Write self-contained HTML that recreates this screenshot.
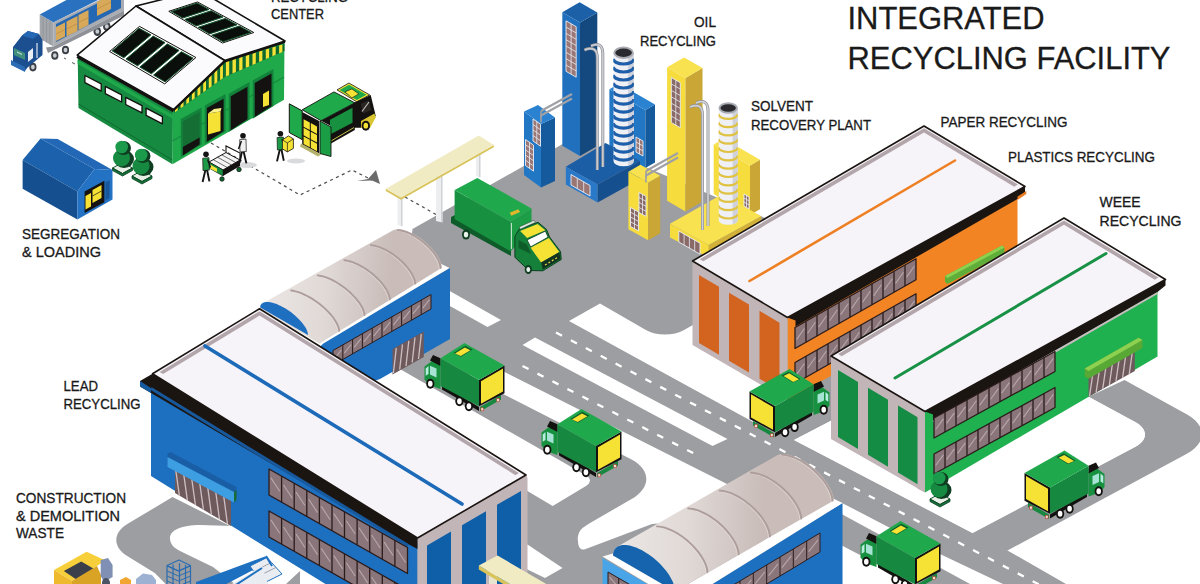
<!DOCTYPE html>
<html lang="en"><head><meta charset="utf-8"><title>Integrated Recycling Facility</title>
<style>html,body{margin:0;padding:0;background:#fff}svg{display:block}</style></head>
<body>
<svg width="1200" height="584" viewBox="0 0 1200 584">
<rect width="1200" height="584" fill="#fff"/>
<polygon points="412.5,229 575,137 840,250 832.5,420 794,440 972.5,533 1007.5,550.5 1066,584 380,584 380,395 395,372" fill="#9d9ea1"/>
<path d="M1088.5 396.8L1124.5 380L1187.1 414.4C1206.8 425.3 1206.8 443 1186.9 453.7L1007.5 550.5L1002 553.5L967 536L972.5 533L1135.4 446.7C1148.1 440 1148.1 428.9 1135.5 422.2Z" fill="#9d9ea1"/>
<path d="M172.5 497L232 527L300 566L300 584L165.7 584L154.8 573L127.2 556.1C112.6 547.3 112.7 532.8 127.3 524.1Z" fill="#9d9ea1"/>
<path d="M232 526 L200 525 C182 525 170 530 170 538 C170 544 174 548 180 551 L213 567 L235 584 L286 584 L300 571 L300 568 Z" fill="#fff"/>
<polygon points="440,285.5 501,320 487.5,327 440,300.5" fill="#fff"/>
<path d="M569 321L600 303.5L645.9 330C656.4 336.1 673.6 336.1 684.1 330L780 275L790 403L755 423Z" fill="#fff"/>
<polygon points="535,337.5 727.5,439 712.5,446 522.5,345" fill="#fff"/>
<path d="M488.7 364L725 483L760 500L700 520L652 524L591 547L585 549.2C581.7 550.4 578.6 547.8 578.2 543.4L577.8 539.9C577.4 535.5 579.7 530.1 582.9 527.8L588.8 523.7L631.6 499C651.6 487.4 651.2 469.4 630.6 458.9L505 395L469 375Z" fill="#fff"/>
<path d="M378 356.5L586.3 475.5C591.1 478.3 591.1 482.8 586.4 485.7L552.7 506L378 402Z" fill="#fff"/>
<polygon points="500,530 529,545.5 562.5,568 545,578 500,556" fill="#fff"/>
<polygon points="770,465.5 842,502.9 941,554.4 1003,584 970,584 842,514.2 770,476.8" fill="#fff"/>
<polygon points="836,542.5 916,584 836,584" fill="#fff"/>
<path d="M794 440L832.5 420L1000 380L1088.5 396.8L1135.5 422.2C1148.1 428.9 1148.1 440 1135.4 446.7L972.5 533Z" fill="#fff"/>
<polyline points="556,332.5 1040,585" fill="none" stroke="#fff" stroke-width="2.3" stroke-dasharray="6.8 10"/>
<polyline points="522.5,366 694,453.5" fill="none" stroke="#fff" stroke-width="2.3" stroke-dasharray="6.8 10"/>
<ellipse cx="97.3" cy="31.5" rx="3.8" ry="4.5" fill="#3b3f46"/><ellipse cx="97.3" cy="31.5" rx="1.9" ry="2.3" fill="#c9ccd1"/>
<ellipse cx="106.8" cy="26.5" rx="3.8" ry="4.5" fill="#3b3f46"/><ellipse cx="106.8" cy="26.5" rx="1.9" ry="2.3" fill="#c9ccd1"/>
<polygon points="39.7,14.4 53.4,22.6 104,-3 72,-3" fill="#2a72c0"/>
<polygon points="53.4,22.6 124,-12 124,10.5 53.4,46.6" fill="#a9acb2"/>
<polygon points="56,24 121,-8.5 121,8 56,42" fill="#2467b3"/>
<polygon points="56,27 65,22.5 65,36.5 56,41" fill="#d9a95a"/>
<polyline points="56,34 65,29.5" fill="none" stroke="#b98a45" stroke-width="0.7"/>
<polygon points="66.5,21.5 77.5,16 77.5,31 66.5,36.5" fill="#d9a95a"/>
<polyline points="66.5,29 77.5,23.5" fill="none" stroke="#b98a45" stroke-width="0.7"/>
<polygon points="78.5,15 88.5,10 88.5,25 78.5,30" fill="#d9a95a"/>
<polyline points="78.5,22.5 88.5,17.5" fill="none" stroke="#b98a45" stroke-width="0.7"/>
<polygon points="97,2 111,-5 111,9 97,16" fill="#d9a95a"/>
<polyline points="97,9 111,2" fill="none" stroke="#b98a45" stroke-width="0.7"/>
<polygon points="39.7,14.4 53.4,22.6 53.4,46.6 39.7,38.4" fill="#a3a6ab"/>
<polyline points="43.1,16.4 43.1,40.5" fill="none" stroke="#8c9096" stroke-width="0.7"/>
<polyline points="46.5,18.5 46.5,42.5" fill="none" stroke="#8c9096" stroke-width="0.7"/>
<polyline points="50,20.6 50,44.5" fill="none" stroke="#8c9096" stroke-width="0.7"/>
<polygon points="46,47.5 53.4,46.6 124,10.5 124,15.5 48,53" fill="#8e9197"/>
<ellipse cx="54.8" cy="55.5" rx="3.6" ry="4.3" fill="#3b3f46"/><ellipse cx="54.8" cy="55.5" rx="1.9" ry="2.3" fill="#c9ccd1"/>
<ellipse cx="65.5" cy="50" rx="3.6" ry="4.3" fill="#3b3f46"/><ellipse cx="65.5" cy="50" rx="1.9" ry="2.3" fill="#c9ccd1"/>
<ellipse cx="32.9" cy="67.1" rx="3.6" ry="4.3" fill="#3b3f46"/><ellipse cx="32.9" cy="67.1" rx="1.9" ry="2.3" fill="#c9ccd1"/>
<polygon points="13,47 22,35.5 28,31 39,34 42.5,40 42.5,55 27,68 25,71 13,65" fill="#1b4f90"/>
<polygon points="22,35.5 28,31 39,34 33,39" fill="#2467b3"/>
<polygon points="14,48 25,53 25,60 14,55" fill="#3f8f7a"/>
<polygon points="28,52 33,48 33,58 28,62" fill="#e9eef5"/>
<polygon points="11,60 25,67 25,72 11,65" fill="#2c6cb5"/>
<polyline points="37,43 37,58" fill="none" stroke="#dfe6ee" stroke-width="1.2"/>
<polyline points="17,52 22,54.5" fill="none" stroke="#dfe6ee" stroke-width="1"/>
<polyline points="64,58 66,59" fill="none" stroke="#555" stroke-width="1"/>
<polyline points="72,62.5 75,64" fill="none" stroke="#555" stroke-width="1"/>
<polyline points="211,143 300,195 352,170 372,180" fill="none" stroke="#4a4a4a" stroke-width="1.2" stroke-dasharray="3 3.5"/>
<polyline points="405,197 437,215" fill="none" stroke="#4a4a4a" stroke-width="1.2" stroke-dasharray="3 3.5"/>
<polygon points="357,181 368,179 376,170 380,184 372,180.5" fill="#6b6b6b"/>
<ellipse cx="247" cy="165" rx="10" ry="3" fill="#d8dadc"/>
<ellipse cx="296" cy="161" rx="9" ry="2.5" fill="#d8dadc"/>
<polygon points="77.7,57 173,112 172.5,164.3 78.5,108" fill="#168a40"/>
<polygon points="77.7,60 173,115 173,119 77.7,64" fill="#1fa94b"/>
<polyline points="78.5,104 172.5,160" fill="none" stroke="#0e6a30" stroke-width="1"/>
<polygon points="84.9,75.5 101.2,83.9 101.2,91.1 84.9,82.7" fill="#fff" stroke="#141210" stroke-width="1.3" stroke-linejoin="round"/>
<polygon points="105.3,86.4 121.6,94.8 121.6,102 105.3,93.6" fill="#fff" stroke="#141210" stroke-width="1.3" stroke-linejoin="round"/>
<polygon points="125.7,97.3 142,105.7 142,112.9 125.7,104.5" fill="#fff" stroke="#141210" stroke-width="1.3" stroke-linejoin="round"/>
<polygon points="146.1,108.2 162.4,116.6 162.4,123.8 146.1,115.4" fill="#fff" stroke="#141210" stroke-width="1.3" stroke-linejoin="round"/>
<polygon points="172.5,110 224.7,60 284.5,42 284,99.8 172.5,164.3" fill="#1fa94b"/>
<polyline points="172.5,141 284,77" fill="none" stroke="#168a40" stroke-width="1.2"/>
<polygon points="180.8,119 201.6,107.4 201.6,144.6 180.8,157.2" fill="#13823b"/>
<polygon points="182.8,121.5 199.6,112.1 199.6,144.6 182.8,155.5" fill="#156f35"/>
<polygon points="182.8,147 199.6,137.6 199.6,144.6 182.8,155.5" fill="#141210"/>
<polygon points="204.8,105.6 225.6,94 225.6,131.2 204.8,143.8" fill="#13823b"/>
<polygon points="206.8,108.1 223.6,98.7 223.6,131.2 206.8,142.1" fill="#141210"/>
<polygon points="228.7,93.7 249.5,82.1 249.5,119.3 228.7,131.9" fill="#13823b"/>
<polygon points="230.7,96.2 247.5,86.8 247.5,119.3 230.7,130.2" fill="#141210"/>
<polygon points="252.7,80.5 273.5,68.9 273.5,106.1 252.7,118.7" fill="#13823b"/>
<polygon points="254.7,83 271.5,73.6 271.5,106.1 254.7,117" fill="#141210"/>
<polygon points="208,113.5 220.5,111.5 220.5,131 208,134.5" fill="#f5e234"/>
<polygon points="208,113.5 214,109 221.5,108 220.5,111.5" fill="#fbf08a"/>
<polygon points="263,94 269,90.5 269,105 263,107" fill="#f5e234"/>
<polygon points="174,105 224.7,62 224.7,77 174,113" fill="#0e6a30"/>
<polygon points="175,104.1 177.8,101.8 177.8,110.3 175,112.3" fill="#f5e234"/>
<polygon points="180.6,99.4 183.5,97 183.5,106.3 180.6,108.3" fill="#f5e234"/>
<polygon points="186.3,94.6 189.1,92.2 189.1,102.3 186.3,104.3" fill="#f5e234"/>
<polygon points="191.9,89.8 194.7,87.4 194.7,98.3 191.9,100.3" fill="#f5e234"/>
<polygon points="197.5,85 200.4,82.6 200.4,94.3 197.5,96.3" fill="#f5e234"/>
<polygon points="203.2,80.3 206,77.9 206,90.3 203.2,92.3" fill="#f5e234"/>
<polygon points="208.8,75.5 211.6,73.1 211.6,86.3 208.8,88.3" fill="#f5e234"/>
<polygon points="214.4,70.7 217.3,68.3 217.3,82.3 214.4,84.3" fill="#f5e234"/>
<polygon points="220.1,65.9 222.9,63.5 222.9,78.3 220.1,80.3" fill="#f5e234"/>
<polygon points="224.7,62 284.5,44 284.5,51 224.7,77" fill="#0e6a30"/>
<polygon points="225.9,61.6 229.2,60.6 229.2,75 225.9,76.5" fill="#f5e234"/>
<polygon points="232.5,59.6 235.9,58.6 235.9,72.1 232.5,73.6" fill="#f5e234"/>
<polygon points="239.2,57.6 242.5,56.6 242.5,69.3 239.2,70.7" fill="#f5e234"/>
<polygon points="245.8,55.6 249.2,54.6 249.2,66.4 245.8,67.8" fill="#f5e234"/>
<polygon points="252.5,53.6 255.8,52.6 255.8,63.5 252.5,64.9" fill="#f5e234"/>
<polygon points="259.1,51.6 262.4,50.6 262.4,60.6 259.1,62" fill="#f5e234"/>
<polygon points="265.8,49.6 269.1,48.6 269.1,57.7 265.8,59.1" fill="#f5e234"/>
<polygon points="272.4,47.6 275.7,46.6 275.7,54.8 272.4,56.3" fill="#f5e234"/>
<polygon points="279.1,45.6 282.4,44.6 282.4,51.9 279.1,53.4" fill="#f5e234"/>
<polygon points="136,6 199,-9.7 285,41 224.7,60.5" fill="#fbfbfd" stroke="#141210" stroke-width="1.6" stroke-linejoin="round"/>
<polygon points="77.2,55.1 136,6 224.7,60.5 173.5,109.5" fill="#fbfbfd" stroke="#141210" stroke-width="1.6" stroke-linejoin="round"/>
<polyline points="77.2,56.5 173.5,111" fill="none" stroke="#141210" stroke-width="3"/>
<polyline points="173.5,110.3 224.7,61.5 285,42" fill="none" stroke="#141210" stroke-width="2"/>
<polygon points="109.6,51.5 139.5,26.4 195.9,57.5 164.7,83.9" fill="#fff" stroke="#141210" stroke-width="1" stroke-linejoin="round"/>
<polygon points="112.2,50.9 139.1,28.3 151,34.8 123.8,57.7" fill="#0a0f0c" stroke="#14532d" stroke-width="1" stroke-linejoin="round"/>
<polygon points="126,59 153.2,36.1 165,42.6 137.6,65.8" fill="#0a0f0c" stroke="#14532d" stroke-width="1" stroke-linejoin="round"/>
<polygon points="139.8,67.1 167.3,43.9 179.1,50.4 151.4,73.8" fill="#0a0f0c" stroke="#14532d" stroke-width="1" stroke-linejoin="round"/>
<polygon points="153.6,75.1 181.4,51.7 193.2,58.2 165.2,81.9" fill="#0a0f0c" stroke="#14532d" stroke-width="1" stroke-linejoin="round"/>
<polygon points="168.8,11.3 197.5,2 253.8,32.5 222.5,43" fill="#fff" stroke="#141210" stroke-width="1" stroke-linejoin="round"/>
<polygon points="171.3,11.5 197.2,3.1 209,9.5 182.6,18.1" fill="#0a0f0c" stroke="#14532d" stroke-width="1" stroke-linejoin="round"/>
<polygon points="184.8,19.4 211.2,10.7 223,17.1 196.1,26" fill="#0a0f0c" stroke="#14532d" stroke-width="1" stroke-linejoin="round"/>
<polygon points="198.2,27.3 225.3,18.4 237.1,24.8 209.5,33.9" fill="#0a0f0c" stroke="#14532d" stroke-width="1" stroke-linejoin="round"/>
<polygon points="211.7,35.2 239.3,26 251.1,32.4 223,41.8" fill="#0a0f0c" stroke="#14532d" stroke-width="1" stroke-linejoin="round"/>
<polygon points="40.6,138.5 57.7,139 112.5,170 94.5,169" fill="#2268b6"/>
<polygon points="22.6,160 40.6,138.5 94.5,169 77.4,191.5" fill="#1b61ab"/>
<polygon points="22.6,160 77.4,191.5 77.4,219.4 22.6,188.8" fill="#154f8f"/>
<polygon points="77.4,191.5 94.5,169 112.5,170 112.5,199.6 77.4,219.4" fill="#2472c4"/>
<polygon points="84.6,191.5 104.4,180.8 104.4,202.3 84.6,213.1" fill="#15120f"/>
<polygon points="105.5,182.5 109.5,180.3 109.5,198 105.5,200.2" fill="#17569a"/>
<polygon points="85.5,196 91,193 91,206.5 85.5,209.5" fill="#f5e234"/>
<polygon points="92.5,190 101.5,185 101.5,198 92.5,203" fill="#f5e234"/>
<polyline points="92.5,196 101.5,191" fill="none" stroke="#15120f" stroke-width="0.7"/>
<polygon points="112.5,168 122.5,162.5 132.5,168 122.5,173.5" fill="#e8efe6" stroke="#14532d" stroke-width="1" stroke-linejoin="round"/>
<polygon points="112.5,168 122.5,173.5 132.5,168 132.5,170.5 122.5,176 112.5,170.5" fill="#14703a" stroke="#0d3f20" stroke-width="0.8" stroke-linejoin="round"/>
<ellipse cx="124" cy="159" rx="10" ry="9" fill="#0f3d22"/>
<ellipse cx="121.5" cy="158" rx="8.5" ry="8.5" fill="#178a42"/>
<ellipse cx="123.5" cy="148" rx="7.5" ry="7" fill="#0f3d22"/>
<ellipse cx="121.7" cy="147" rx="6.3" ry="6.3" fill="#1a9a4a"/>
<polygon points="132,176 142,170.5 152,176 142,181.5" fill="#e8efe6" stroke="#14532d" stroke-width="1" stroke-linejoin="round"/>
<polygon points="132,176 142,181.5 152,176 152,178.5 142,184 132,178.5" fill="#14703a" stroke="#0d3f20" stroke-width="0.8" stroke-linejoin="round"/>
<ellipse cx="143.5" cy="167" rx="10" ry="9" fill="#0f3d22"/>
<ellipse cx="141" cy="166" rx="8.5" ry="8.5" fill="#178a42"/>
<ellipse cx="143" cy="156" rx="7.5" ry="7" fill="#0f3d22"/>
<ellipse cx="141.2" cy="155" rx="6.3" ry="6.3" fill="#1a9a4a"/>
<polygon points="289.3,103.8 302.2,110.8 302.2,139.6 289.3,132.6" fill="#1fa94b" stroke="#141210" stroke-width="1" stroke-linejoin="round"/>
<polygon points="302.2,112 319.1,121 319.1,153.5 302.2,144.5" fill="#141210"/>
<polygon points="303.6,119.2 309.8,122.6 309.8,130.1 303.6,126.7" fill="#f5e234"/>
<polygon points="303.6,127.8 309.8,131.2 309.8,138.7 303.6,135.3" fill="#f5e234"/>
<polygon points="303.6,136.4 309.8,139.8 309.8,147.3 303.6,143.9" fill="#f5e234"/>
<polygon points="310.8,123.1 317,126.5 317,134 310.8,130.6" fill="#f5e234"/>
<polygon points="310.8,131.7 317,135.1 317,142.6 310.8,139.2" fill="#f5e234"/>
<polygon points="310.8,140.3 317,143.7 317,151.2 310.8,147.8" fill="#f5e234"/>
<polygon points="301,143.5 317,152 321,154.5 318,156.5 300,146.5" fill="#b5b06a"/>
<polygon points="321,120.7 354.8,102.8 354.8,130 331,143.5 331,126" fill="#141210"/>
<polygon points="330,119.7 352.5,107.8 352.5,122.7 330,134.6" fill="#17913f"/>
<polyline points="331,141 354,127.5" fill="none" stroke="#c9bf4a" stroke-width="1"/>
<polygon points="320,121 331,127 331,156.5 320,153.5" fill="#1b9d46" stroke="#141210" stroke-width="0.9" stroke-linejoin="round"/>
<polygon points="302.2,109.8 334,91.9 354.8,102.8 321,120.7" fill="#1fa94b" stroke="#141210" stroke-width="0.9" stroke-linejoin="round"/>
<polygon points="337,89.9 348.9,83 369.7,94.9 356.8,101.8" fill="#f5e234" stroke="#141210" stroke-width="0.8" stroke-linejoin="round"/>
<polygon points="339.5,90 349,84.7 366.5,94.8 356.8,100" fill="#1fa94b"/>
<polygon points="344.9,91.9 351.9,88.9 358.8,93.9 351.9,97.9" fill="#f5e234" stroke="#141210" stroke-width="0.6" stroke-linejoin="round"/>
<polygon points="353.8,102.8 370.7,94.9 375.7,115.7 368.7,127.7 353.8,127.7" fill="#141210"/>
<polygon points="360.8,103.8 368.5,100.2 371.5,110 363,113.5" fill="#2a2622"/>
<polyline points="362,111.5 369,102" fill="none" stroke="#bdbdbd" stroke-width="1.2"/>
<polygon points="361,121 374.5,113.5 375.7,117.5 370,128 361,128" fill="#d9c530"/>
<ellipse cx="365.8" cy="125.7" rx="4.2" ry="5" fill="#141210"/><ellipse cx="365.8" cy="125.7" rx="2.3" ry="2.9" fill="#f5e234"/>
<polygon points="209,162 226,152.5 240,160 223,170" fill="#f4f4f4" stroke="#141210" stroke-width="1" stroke-linejoin="round"/>
<polyline points="213.2,159.6 227.2,167.5" fill="none" stroke="#141210" stroke-width="0.6"/>
<polyline points="217.5,157.2 231.5,165" fill="none" stroke="#141210" stroke-width="0.6"/>
<polyline points="221.8,154.9 235.8,162.5" fill="none" stroke="#141210" stroke-width="0.6"/>
<polygon points="209,162 223,170 223,176 209,168" fill="#17913f" stroke="#141210" stroke-width="0.6" stroke-linejoin="round"/>
<polygon points="223,170 240,160 240,166 223,176" fill="#141210"/>
<polygon points="210,164.5 217,168.5 217,172 210,168.5" fill="#f5e234"/>
<polyline points="226,152.5 226,146 240,153 240,160" fill="none" stroke="#141210" stroke-width="1.1"/>
<circle cx="222" cy="179" r="2.2" fill="#0d6b2f" stroke="#141210" stroke-width="0.8"/>
<circle cx="239" cy="169.5" r="2.2" fill="#0d6b2f" stroke="#141210" stroke-width="0.8"/>
<polyline points="202.6,182 205.7,168.8 206.8,168.8 209.4,181.4" fill="none" stroke="#141414" stroke-width="1.9" stroke-linejoin="round"/>
<polygon points="202.7,158.2 209,157.7 209.3,170.1 203,170.6" fill="#1d9a48" stroke="#141414" stroke-width="0.7" stroke-linejoin="round"/>
<polyline points="207.6,159.6 210.5,167.5" fill="none" stroke="#141414" stroke-width="1.5"/>
<circle cx="206" cy="154.3" r="2.8" fill="#141414"/>
<polyline points="246.4,163.4 243.3,150.2 242.2,150.2 239.6,162.8" fill="none" stroke="#141414" stroke-width="1.9" stroke-linejoin="round"/>
<polygon points="239.7,139.6 246,139.1 246.3,151.5 240,152" fill="#f1f1f1" stroke="#141414" stroke-width="0.7" stroke-linejoin="round"/>
<polyline points="241.4,141 238.5,148.9" fill="none" stroke="#141414" stroke-width="1.5"/>
<circle cx="243" cy="135.7" r="2.8" fill="#141414"/>
<polyline points="277,161.4 280.1,148.2 281.2,148.2 283.8,160.8" fill="none" stroke="#141414" stroke-width="1.9" stroke-linejoin="round"/>
<polygon points="277.1,137.6 283.4,137.1 283.7,149.5 277.4,150" fill="#1d9a48" stroke="#141414" stroke-width="0.7" stroke-linejoin="round"/>
<polyline points="282,139 284.9,146.9" fill="none" stroke="#141414" stroke-width="1.5"/>
<circle cx="280.4" cy="133.7" r="2.8" fill="#141414"/>
<polygon points="282.4,139.9 288.4,135.9 293.4,138.9 293.4,148.4 287.4,151.9 282.4,148.9" fill="#f5e234" stroke="#141414" stroke-width="0.8" stroke-linejoin="round"/>
<polyline points="282.4,139.9 287.4,142.9 293.4,138.9" fill="none" stroke="#141414" stroke-width="0.7"/>
<polyline points="287.4,142.9 287.4,151.9" fill="none" stroke="#141414" stroke-width="0.7"/>
<polygon points="476,150 480.5,150 480.5,177.5 476,176" fill="#eceef0"/>
<polyline points="479.7,150 479.7,177" fill="none" stroke="#cfd2d6" stroke-width="1.4"/>
<polygon points="436,172 442.5,172 442.5,222.5 436,221" fill="#eceef0"/>
<polyline points="441.7,172 441.7,222" fill="none" stroke="#cfd2d6" stroke-width="1.4"/>
<polygon points="397.5,192 402.5,192 402.5,226.5 397.5,225" fill="#eceef0"/>
<polyline points="401.7,192 401.7,226" fill="none" stroke="#cfd2d6" stroke-width="1.4"/>
<polygon points="385.8,188.8 401,197.5 493.8,145 493.8,147.3 401,199.8 385.8,191" fill="#d8c45a"/>
<polygon points="385.8,188.8 478.8,135.5 493.8,145 401,197.5" fill="#f0ebc2"/>
<polygon points="320,343 450,268 450,339 380,379 320,400" fill="#1d6fc0"/>
<polygon points="306,347 441.3,264 449.5,268 323,343.8 318,349" fill="#fff"/>
<polygon points="333,350.5 431,294.5 431,309 333,365" fill="#8a767a" stroke="#2b1c1c" stroke-width="1" stroke-linejoin="round"/>
<polyline points="342.8,344.9 342.8,359.4" fill="none" stroke="#2b1c1c" stroke-width="1"/>
<polyline points="352.6,339.3 352.6,353.8" fill="none" stroke="#2b1c1c" stroke-width="1"/>
<polyline points="362.4,333.7 362.4,348.2" fill="none" stroke="#2b1c1c" stroke-width="1"/>
<polyline points="372.2,328.1 372.2,342.6" fill="none" stroke="#2b1c1c" stroke-width="1"/>
<polyline points="382,322.5 382,337" fill="none" stroke="#2b1c1c" stroke-width="1"/>
<polyline points="391.8,316.9 391.8,331.4" fill="none" stroke="#2b1c1c" stroke-width="1"/>
<polyline points="401.6,311.3 401.6,325.8" fill="none" stroke="#2b1c1c" stroke-width="1"/>
<polyline points="411.4,305.7 411.4,320.2" fill="none" stroke="#2b1c1c" stroke-width="1"/>
<polyline points="421.2,300.1 421.2,314.6" fill="none" stroke="#2b1c1c" stroke-width="1"/>
<polyline points="334.5,358.7 341.3,350.1" fill="none" stroke="#b7a7aa" stroke-width="1.1"/>
<polyline points="344.3,353.1 351.1,344.5" fill="none" stroke="#b7a7aa" stroke-width="1.1"/>
<polyline points="354.1,347.4 360.9,338.9" fill="none" stroke="#b7a7aa" stroke-width="1.1"/>
<polyline points="363.9,341.9 370.7,333.3" fill="none" stroke="#b7a7aa" stroke-width="1.1"/>
<polyline points="373.7,336.2 380.5,327.7" fill="none" stroke="#b7a7aa" stroke-width="1.1"/>
<polyline points="383.5,330.7 390.3,322.1" fill="none" stroke="#b7a7aa" stroke-width="1.1"/>
<polyline points="393.3,325.1 400.1,316.5" fill="none" stroke="#b7a7aa" stroke-width="1.1"/>
<polyline points="403.1,319.4 409.9,310.9" fill="none" stroke="#b7a7aa" stroke-width="1.1"/>
<polyline points="412.9,313.9 419.7,305.3" fill="none" stroke="#b7a7aa" stroke-width="1.1"/>
<polyline points="422.7,308.2 429.5,299.7" fill="none" stroke="#b7a7aa" stroke-width="1.1"/>
<polygon points="392.5,349 423.8,331.5 423.8,357 392.5,374.5" fill="#6e5a5c"/>
<polyline points="396.3,347.9 393.4,373" fill="none" stroke="#cdbfc2" stroke-width="1.3"/>
<polyline points="402.5,344.4 399.7,369.5" fill="none" stroke="#cdbfc2" stroke-width="1.3"/>
<polyline points="408.8,340.9 406,366" fill="none" stroke="#cdbfc2" stroke-width="1.3"/>
<polyline points="415,337.4 412.2,362.5" fill="none" stroke="#cdbfc2" stroke-width="1.3"/>
<polyline points="421.3,333.9 418.5,359" fill="none" stroke="#cdbfc2" stroke-width="1.3"/>
<defs><linearGradient id="bg1" gradientUnits="userSpaceOnUse" x1="259.5" y1="298.8" x2="388.7" y2="308.9"><stop offset="0" stop-color="#ece7e5"/><stop offset="0.5" stop-color="#e0d9d6"/><stop offset="1" stop-color="#c9bcb9"/></linearGradient></defs>
<polygon points="259.5,309 259.6,307.7 259.9,306.6 260.3,305.5 261,304.6 261.8,303.8 262.8,303.2 392.7,230.4 393.9,229.9 395.1,229.6 396.6,229.4 398.1,229.3 399.7,229.4 401.4,229.6 403.3,230 405.2,230.5 407.1,231.2 409.1,231.9 411.1,232.8 413.2,233.9 415.3,235 417.4,236.2 419.4,237.6 421.5,239 423.5,240.6 425.4,242.2 427.3,243.8 429.1,245.5 430.9,247.3 432.5,249.1 434,250.9 435.4,252.7 436.7,254.5 437.9,256.3 438.9,258.1 439.8,259.9 440.5,261.6 441.1,263.2 441.5,264.8 441.7,266.3 441.8,267.7 319.5,343.4" fill="url(#bg1)"/>
<polyline points="337.8,331.3 337.6,329.7 337.2,328 336.6,326.3 335.8,324.4 334.7,322.5 333.5,320.6 332.2,318.5 330.6,316.5 328.9,314.5 327,312.4 325,310.4 322.9,308.4 320.6,306.4 318.3,304.6 315.9,302.7 313.4,301 311,299.4 308.4,297.9 305.9,296.5 303.4,295.3 301,294.2 298.6,293.2 296.2,292.4 294,291.8 291.9,291.3 289.8,291" fill="none" stroke="#ece6e4" stroke-width="1.2" stroke-linecap="round" opacity="0.55"/>
<polyline points="339.1,330.8 338.9,329.2 338.5,327.5 337.9,325.8 337.1,323.9 336,322 334.8,320.1 333.5,318 331.9,316 330.2,314 328.3,311.9 326.3,309.9 324.2,307.9 321.9,305.9 319.6,304.1 317.2,302.2 314.7,300.5 312.3,298.9 309.7,297.4 307.2,296 304.7,294.8 302.3,293.7 299.9,292.7 297.5,291.9 295.3,291.3 293.2,290.8 291.1,290.5" fill="none" stroke="#ad9e9c" stroke-width="1.9" stroke-linecap="round"/>
<polyline points="363.1,315.6 363,314 362.6,312.3 362,310.6 361.2,308.7 360.2,306.8 359,304.8 357.7,302.9 356.1,300.8 354.5,298.8 352.6,296.8 350.7,294.8 348.6,292.8 346.4,290.9 344.2,289 341.8,287.2 339.4,285.6 337,284 334.5,282.5 332.1,281.1 329.7,279.9 327.3,278.9 324.9,277.9 322.6,277.2 320.5,276.6 318.4,276.2 316.4,275.9" fill="none" stroke="#ece6e4" stroke-width="1.2" stroke-linecap="round" opacity="0.55"/>
<polyline points="364.4,315.1 364.3,313.5 363.9,311.8 363.3,310.1 362.5,308.2 361.5,306.3 360.3,304.3 359,302.4 357.4,300.3 355.8,298.3 353.9,296.3 352,294.3 349.9,292.3 347.7,290.4 345.5,288.5 343.1,286.7 340.7,285.1 338.3,283.5 335.8,282 333.4,280.6 331,279.4 328.6,278.4 326.2,277.4 323.9,276.7 321.8,276.1 319.7,275.7 317.7,275.4" fill="none" stroke="#ad9e9c" stroke-width="1.9" stroke-linecap="round"/>
<polyline points="388.5,299.8 388.3,298.3 388,296.6 387.4,294.8 386.6,293 385.7,291.1 384.5,289.1 383.2,287.2 381.7,285.2 380.1,283.1 378.3,281.1 376.4,279.2 374.3,277.2 372.2,275.3 370,273.5 367.7,271.7 365.4,270.1 363,268.5 360.6,267.1 358.3,265.8 355.9,264.6 353.5,263.6 351.3,262.7 349,262 346.9,261.4 344.9,261 343,260.8" fill="none" stroke="#ece6e4" stroke-width="1.2" stroke-linecap="round" opacity="0.55"/>
<polyline points="389.8,299.3 389.6,297.8 389.3,296.1 388.7,294.3 387.9,292.5 387,290.6 385.8,288.6 384.5,286.7 383,284.7 381.4,282.6 379.6,280.6 377.7,278.7 375.6,276.7 373.5,274.8 371.3,273 369,271.2 366.7,269.6 364.3,268 361.9,266.6 359.6,265.3 357.2,264.1 354.8,263.1 352.6,262.2 350.3,261.5 348.2,260.9 346.2,260.5 344.3,260.3" fill="none" stroke="#ad9e9c" stroke-width="1.9" stroke-linecap="round"/>
<polyline points="413.9,284.1 413.7,282.6 413.4,280.9 412.8,279.1 412,277.3 411.1,275.4 410,273.4 408.7,271.5 407.3,269.5 405.7,267.5 403.9,265.5 402.1,263.5 400.1,261.6 398,259.8 395.9,258 393.6,256.2 391.4,254.6 389.1,253.1 386.7,251.7 384.4,250.4 382.1,249.3 379.8,248.3 377.6,247.4 375.4,246.8 373.4,246.2 371.4,245.9 369.5,245.7" fill="none" stroke="#ece6e4" stroke-width="1.2" stroke-linecap="round" opacity="0.55"/>
<polyline points="415.2,283.6 415,282.1 414.7,280.4 414.1,278.6 413.3,276.8 412.4,274.9 411.3,272.9 410,271 408.6,269 407,267 405.2,265 403.4,263 401.4,261.1 399.3,259.3 397.2,257.5 394.9,255.7 392.7,254.1 390.4,252.6 388,251.2 385.7,249.9 383.4,248.8 381.1,247.8 378.9,246.9 376.7,246.3 374.7,245.7 372.7,245.4 370.8,245.2" fill="none" stroke="#ad9e9c" stroke-width="1.9" stroke-linecap="round"/>
<polyline points="439.3,268.4 439.1,266.8 438.7,265.2 438.2,263.4 437.5,261.6 436.6,259.7 435.5,257.7 434.2,255.8 432.8,253.8 431.3,251.8 429.6,249.9 427.8,247.9 425.8,246 423.8,244.2 421.7,242.4 419.6,240.7 417.4,239.2 415.1,237.7 412.8,236.3 410.6,235.1 408.3,234 406.1,233 404,232.2 401.8,231.5 399.8,231 397.9,230.7 396.1,230.6" fill="none" stroke="#ece6e4" stroke-width="1.2" stroke-linecap="round" opacity="0.55"/>
<polyline points="440.6,267.9 440.4,266.3 440,264.7 439.5,262.9 438.8,261.1 437.9,259.2 436.8,257.2 435.5,255.3 434.1,253.3 432.6,251.3 430.9,249.4 429.1,247.4 427.1,245.5 425.1,243.7 423,241.9 420.9,240.2 418.7,238.7 416.4,237.2 414.1,235.8 411.9,234.6 409.6,233.5 407.4,232.5 405.3,231.7 403.1,231 401.1,230.5 399.2,230.2 397.4,230.1" fill="none" stroke="#ad9e9c" stroke-width="1.9" stroke-linecap="round"/>
<polygon points="308,335 307.9,333.9 307.7,332.7 307.3,331.4 306.8,330.1 306.2,328.8 305.4,327.3 304.5,325.9 303.4,324.4 302.3,322.9 301,321.4 299.6,319.9 298.1,318.4 296.6,316.9 295,315.4 293.2,314 291.5,312.6 289.7,311.3 287.8,310 286,308.8 284.1,307.7 282.2,306.7 280.4,305.7 278.5,304.9 276.7,304.1 275,303.5 273.2,303 271.6,302.5 270.1,302.2 268.6,302.1 267.2,302 265.9,302 264.8,302.2 263.7,302.5 262.8,302.9 262,303.4 261.4,304.1 260.9,304.8 260.5,305.6 260.3,306.6 260.2,307.6" fill="#1f6fc0"/>
<polygon points="645.4,168 609.4,147.2 609.4,89.2 645.4,110" fill="#2277c5"/>
<polygon points="645.4,168 655,162.5 655,104.5 645.4,110" fill="#155a9c"/>
<polygon points="645.4,110 609.4,89.2 619,83.7 655,104.5" fill="#2a82d0"/>
<polygon points="580,156 562.3,145.8 562.3,12.3 580,22.5" fill="#2170bd"/>
<polygon points="580,156 597.3,146 597.3,12.5 580,22.5" fill="#14497f"/>
<polygon points="580,22.5 562.3,12.3 579.6,2.3 597.3,12.5" fill="#1c60a8"/>
<polygon points="566,20.8 576.2,26.7 576.2,77.2 566,71.3" fill="#9a7674" stroke="#e8eef7" stroke-width="0.9" stroke-linejoin="round"/>
<polyline points="571.1,23.7 571.1,74.2" fill="none" stroke="#e8eef7" stroke-width="0.8"/>
<polyline points="566,27.1 576.2,33" fill="none" stroke="#e8eef7" stroke-width="0.8"/>
<polyline points="566,33.4 576.2,39.3" fill="none" stroke="#e8eef7" stroke-width="0.8"/>
<polyline points="566,39.7 576.2,45.6" fill="none" stroke="#e8eef7" stroke-width="0.8"/>
<polyline points="566,46 576.2,51.9" fill="none" stroke="#e8eef7" stroke-width="0.8"/>
<polyline points="566,52.4 576.2,58.2" fill="none" stroke="#e8eef7" stroke-width="0.8"/>
<polyline points="566,58.7 576.2,64.6" fill="none" stroke="#e8eef7" stroke-width="0.8"/>
<polyline points="566,65 576.2,70.9" fill="none" stroke="#e8eef7" stroke-width="0.8"/>
<polygon points="565.8,166.7 605.5,143 640,161 597.6,184.6" fill="#1b5ea6"/>
<polygon points="565.8,166.7 597.6,184.6 597.6,202.5 565.8,184.6" fill="#2a79c9"/>
<polygon points="597.6,184.6 640,161 640,179 597.6,202.5" fill="#154f8e"/>
<polygon points="571,174.5 590,185.5 590,196 571,185" fill="#9a7674" stroke="#e8eef7" stroke-width="0.9" stroke-linejoin="round"/>
<polyline points="577.3,178.2 577.3,188.7" fill="none" stroke="#e8eef7" stroke-width="0.8"/>
<polyline points="583.7,181.8 583.7,192.3" fill="none" stroke="#e8eef7" stroke-width="0.8"/>
<path d="M584.5 50 Q597.3 45 597.3 58 L597.3 170" fill="none" stroke="#8f9197" stroke-width="3"/><path d="M584.5 50 Q597.3 45 597.3 58 L597.3 170" fill="none" stroke="#c9cbd0" stroke-width="1.6"/>
<path d="M591 46 Q602.8 41 602.8 54 L602.8 167" fill="none" stroke="#8f9197" stroke-width="3"/><path d="M591 46 Q602.8 41 602.8 54 L602.8 167" fill="none" stroke="#c9cbd0" stroke-width="1.6"/>
<clipPath id="c623"><path d="M613.3 52.8 L613.3 161 A10.3 5.2 0 0 0 633.9 161 L633.9 52.8Z"/></clipPath>
<g clip-path="url(#c623)"><rect x="613.3" y="52.8" width="20.6" height="114.4" fill="#eef0f6"/>
<rect x="628.2" y="52.8" width="5.7" height="114.4" fill="#cfd2da"/>
<path d="M613.3 58.8 A10.3 5.2 0 0 0 633.9 58.8" fill="none" stroke="#1f5ea8" stroke-width="3.2"/>
<path d="M613.3 66.8 A10.3 5.2 0 0 0 633.9 66.8" fill="none" stroke="#1f5ea8" stroke-width="3.2"/>
<path d="M613.3 74.8 A10.3 5.2 0 0 0 633.9 74.8" fill="none" stroke="#1f5ea8" stroke-width="3.2"/>
<path d="M613.3 82.8 A10.3 5.2 0 0 0 633.9 82.8" fill="none" stroke="#1f5ea8" stroke-width="3.2"/>
<path d="M613.3 90.9 A10.3 5.2 0 0 0 633.9 90.9" fill="none" stroke="#1f5ea8" stroke-width="3.2"/>
<path d="M613.3 98.9 A10.3 5.2 0 0 0 633.9 98.9" fill="none" stroke="#1f5ea8" stroke-width="3.2"/>
<path d="M613.3 106.9 A10.3 5.2 0 0 0 633.9 106.9" fill="none" stroke="#1f5ea8" stroke-width="3.2"/>
<path d="M613.3 114.9 A10.3 5.2 0 0 0 633.9 114.9" fill="none" stroke="#1f5ea8" stroke-width="3.2"/>
<path d="M613.3 122.9 A10.3 5.2 0 0 0 633.9 122.9" fill="none" stroke="#1f5ea8" stroke-width="3.2"/>
<path d="M613.3 130.9 A10.3 5.2 0 0 0 633.9 130.9" fill="none" stroke="#1f5ea8" stroke-width="3.2"/>
<path d="M613.3 139 A10.3 5.2 0 0 0 633.9 139" fill="none" stroke="#1f5ea8" stroke-width="3.2"/>
<path d="M613.3 147 A10.3 5.2 0 0 0 633.9 147" fill="none" stroke="#1f5ea8" stroke-width="3.2"/>
<path d="M613.3 155 A10.3 5.2 0 0 0 633.9 155" fill="none" stroke="#1f5ea8" stroke-width="3.2"/>
</g>
<ellipse cx="623.6" cy="52.8" rx="9.3" ry="5.2" fill="#2a2a2e" stroke="#a9abb2" stroke-width="2"/>
<polygon points="636,137 643,141 643,156 636,152" fill="#9a7674" stroke="#e8eef7" stroke-width="0.9" stroke-linejoin="round"/>
<polyline points="639.5,139 639.5,154" fill="none" stroke="#e8eef7" stroke-width="0.8"/>
<polyline points="636,142 643,146" fill="none" stroke="#e8eef7" stroke-width="0.8"/>
<polyline points="636,147 643,151" fill="none" stroke="#e8eef7" stroke-width="0.8"/>
<polygon points="541,187.5 524,175 524,111.5 541,124" fill="#2277c5"/>
<polygon points="541,187.5 555,181.1 555,117.6 541,124" fill="#155a9c"/>
<polygon points="541,124 524,111.5 538,105.1 555,117.6" fill="#2a82d0"/>
<polygon points="533,119 540.5,124.2 540.5,146.2 533,141" fill="#9a7674" stroke="#e8eef7" stroke-width="0.9" stroke-linejoin="round"/>
<polyline points="536.8,121.6 536.8,143.6" fill="none" stroke="#e8eef7" stroke-width="0.8"/>
<polyline points="533,124.5 540.5,129.8" fill="none" stroke="#e8eef7" stroke-width="0.8"/>
<polyline points="533,130 540.5,135.2" fill="none" stroke="#e8eef7" stroke-width="0.8"/>
<polyline points="533,135.5 540.5,140.8" fill="none" stroke="#e8eef7" stroke-width="0.8"/>
<polygon points="525.5,139.5 533.5,145.1 533.5,171.1 525.5,165.5" fill="#9a7674" stroke="#e8eef7" stroke-width="0.9" stroke-linejoin="round"/>
<polyline points="529.5,142.3 529.5,168.3" fill="none" stroke="#e8eef7" stroke-width="0.8"/>
<polyline points="525.5,144.7 533.5,150.3" fill="none" stroke="#e8eef7" stroke-width="0.8"/>
<polyline points="525.5,149.9 533.5,155.5" fill="none" stroke="#e8eef7" stroke-width="0.8"/>
<polyline points="525.5,155.1 533.5,160.7" fill="none" stroke="#e8eef7" stroke-width="0.8"/>
<polyline points="525.5,160.3 533.5,165.9" fill="none" stroke="#e8eef7" stroke-width="0.8"/>
<polyline points="541,111 572,94" fill="none" stroke="#9fa1a6" stroke-width="2.2"/>
<polyline points="541,111 541,118" fill="none" stroke="#9fa1a6" stroke-width="1.6"/>
<polyline points="541,115.5 572,98.5" fill="none" stroke="#9fa1a6" stroke-width="2.2"/>
<polyline points="541,115.5 541,122.5" fill="none" stroke="#9fa1a6" stroke-width="1.6"/>
<polygon points="750,215 713.7,194.1 713.7,144.6 750,165.5" fill="#f6dc3c"/>
<polygon points="750,215 760,209.2 760,159.7 750,165.5" fill="#c9a635"/>
<polygon points="750,165.5 713.7,144.6 723.7,138.8 760,159.7" fill="#f8e250"/>
<polygon points="685.5,211.4 667.1,200.8 667.1,67.3 685.5,77.9" fill="#f6dc3c"/>
<polygon points="685.5,211.4 702.5,201.6 702.5,68.1 685.5,77.9" fill="#c9a635"/>
<polygon points="685.5,77.9 667.1,67.3 684.1,57.5 702.5,68.1" fill="#f8e250"/>
<polygon points="671.3,77.5 680.3,82.7 680.3,127.7 671.3,122.5" fill="#8a6a66" stroke="#e8eef7" stroke-width="0.9" stroke-linejoin="round"/>
<polyline points="675.8,80.1 675.8,125.1" fill="none" stroke="#e8eef7" stroke-width="0.8"/>
<polyline points="671.3,83.9 680.3,89.1" fill="none" stroke="#e8eef7" stroke-width="0.8"/>
<polyline points="671.3,90.4 680.3,95.6" fill="none" stroke="#e8eef7" stroke-width="0.8"/>
<polyline points="671.3,96.8 680.3,102" fill="none" stroke="#e8eef7" stroke-width="0.8"/>
<polyline points="671.3,103.2 680.3,108.4" fill="none" stroke="#e8eef7" stroke-width="0.8"/>
<polyline points="671.3,109.6 680.3,114.8" fill="none" stroke="#e8eef7" stroke-width="0.8"/>
<polyline points="671.3,116.1 680.3,121.3" fill="none" stroke="#e8eef7" stroke-width="0.8"/>
<polygon points="670,223.8 722.5,194 761.3,216.3 708.8,245" fill="#f8e250"/>
<polygon points="670,223.8 708.8,245 708.8,257.5 670,237.5" fill="#f6dc3c"/>
<polygon points="708.8,245 761.3,216.3 761.3,232 708.8,257.5" fill="#d2b03a"/>
<polygon points="678.8,231 700,243.2 700,254.2 678.8,242" fill="#8a6a66" stroke="#e8eef7" stroke-width="0.9" stroke-linejoin="round"/>
<polyline points="684.1,234.1 684.1,245.1" fill="none" stroke="#e8eef7" stroke-width="0.8"/>
<polyline points="689.4,237.1 689.4,248.1" fill="none" stroke="#e8eef7" stroke-width="0.8"/>
<polyline points="694.7,240.2 694.7,251.2" fill="none" stroke="#e8eef7" stroke-width="0.8"/>
<path d="M690 107 Q702.5 102 702.5 115 L702.5 230" fill="none" stroke="#8f9197" stroke-width="3"/><path d="M690 107 Q702.5 102 702.5 115 L702.5 230" fill="none" stroke="#cfd1d5" stroke-width="1.6"/>
<path d="M696 103 Q708 98 708 111 L708 226" fill="none" stroke="#8f9197" stroke-width="3"/><path d="M696 103 Q708 98 708 111 L708 226" fill="none" stroke="#cfd1d5" stroke-width="1.6"/>
<clipPath id="c728"><path d="M718.5 108 L718.5 220 A9.7 4.8 0 0 0 737.9 220 L737.9 108Z"/></clipPath>
<g clip-path="url(#c728)"><rect x="718.5" y="108" width="19.4" height="117.8" fill="#eef0f6"/>
<rect x="732.6" y="108" width="5.3" height="117.8" fill="#cfd2da"/>
<path d="M718.5 114 A9.7 4.8 0 0 0 737.9 114" fill="none" stroke="#e0c243" stroke-width="2.2"/>
<path d="M718.5 122.3 A9.7 4.8 0 0 0 737.9 122.3" fill="none" stroke="#e0c243" stroke-width="2.2"/>
<path d="M718.5 130.6 A9.7 4.8 0 0 0 737.9 130.6" fill="none" stroke="#e0c243" stroke-width="2.2"/>
<path d="M718.5 138.9 A9.7 4.8 0 0 0 737.9 138.9" fill="none" stroke="#e0c243" stroke-width="2.2"/>
<path d="M718.5 147.2 A9.7 4.8 0 0 0 737.9 147.2" fill="none" stroke="#e0c243" stroke-width="2.2"/>
<path d="M718.5 155.5 A9.7 4.8 0 0 0 737.9 155.5" fill="none" stroke="#e0c243" stroke-width="2.2"/>
<path d="M718.5 163.8 A9.7 4.8 0 0 0 737.9 163.8" fill="none" stroke="#e0c243" stroke-width="2.2"/>
<path d="M718.5 172.2 A9.7 4.8 0 0 0 737.9 172.2" fill="none" stroke="#e0c243" stroke-width="2.2"/>
<path d="M718.5 180.5 A9.7 4.8 0 0 0 737.9 180.5" fill="none" stroke="#e0c243" stroke-width="2.2"/>
<path d="M718.5 188.8 A9.7 4.8 0 0 0 737.9 188.8" fill="none" stroke="#e0c243" stroke-width="2.2"/>
<path d="M718.5 197.1 A9.7 4.8 0 0 0 737.9 197.1" fill="none" stroke="#e0c243" stroke-width="2.2"/>
<path d="M718.5 205.4 A9.7 4.8 0 0 0 737.9 205.4" fill="none" stroke="#e0c243" stroke-width="2.2"/>
<path d="M718.5 213.7 A9.7 4.8 0 0 0 737.9 213.7" fill="none" stroke="#e0c243" stroke-width="2.2"/>
</g>
<ellipse cx="728.2" cy="108" rx="8.7" ry="4.8" fill="#2a2a2e" stroke="#a9abb2" stroke-width="2"/>
<polygon points="744,194 749,196.9 749,208.9 744,206" fill="#8a6a66" stroke="#e8eef7" stroke-width="0.9" stroke-linejoin="round"/>
<polyline points="746.5,195.4 746.5,207.4" fill="none" stroke="#e8eef7" stroke-width="0.8"/>
<polyline points="744,198 749,200.9" fill="none" stroke="#e8eef7" stroke-width="0.8"/>
<polyline points="744,202 749,204.9" fill="none" stroke="#e8eef7" stroke-width="0.8"/>
<polygon points="648.2,240.2 628.4,229.3 628.4,171.7 648.2,182.6" fill="#f6dc3c"/>
<polygon points="648.2,240.2 660.2,233.3 660.2,175.7 648.2,182.6" fill="#c9a635"/>
<polygon points="648.2,182.6 628.4,171.7 640.4,164.8 660.2,175.7" fill="#f8e250"/>
<polygon points="639,192.5 646,196.3 646,216.3 639,212.5" fill="#8a6a66" stroke="#e8eef7" stroke-width="0.9" stroke-linejoin="round"/>
<polyline points="642.5,194.4 642.5,214.4" fill="none" stroke="#e8eef7" stroke-width="0.8"/>
<polyline points="639,197.5 646,201.3" fill="none" stroke="#e8eef7" stroke-width="0.8"/>
<polyline points="639,202.5 646,206.3" fill="none" stroke="#e8eef7" stroke-width="0.8"/>
<polyline points="639,207.5 646,211.3" fill="none" stroke="#e8eef7" stroke-width="0.8"/>
<polygon points="630.5,207.5 638.5,211.9 638.5,230.9 630.5,226.5" fill="#8a6a66" stroke="#e8eef7" stroke-width="0.9" stroke-linejoin="round"/>
<polyline points="634.5,209.7 634.5,228.7" fill="none" stroke="#e8eef7" stroke-width="0.8"/>
<polyline points="630.5,212.2 638.5,216.7" fill="none" stroke="#e8eef7" stroke-width="0.8"/>
<polyline points="630.5,217 638.5,221.4" fill="none" stroke="#e8eef7" stroke-width="0.8"/>
<polyline points="630.5,221.8 638.5,226.2" fill="none" stroke="#e8eef7" stroke-width="0.8"/>
<polyline points="646,171 678,153" fill="none" stroke="#9fa1a6" stroke-width="2.2"/>
<polyline points="646,171 646,178" fill="none" stroke="#9fa1a6" stroke-width="1.6"/>
<polyline points="646,175.5 678,157.5" fill="none" stroke="#9fa1a6" stroke-width="2.2"/>
<polyline points="646,175.5 646,182.5" fill="none" stroke="#9fa1a6" stroke-width="1.6"/>
<polygon points="451,217 455,215 511,249 511,256 451,223" fill="#0f5c2b"/>
<ellipse cx="466" cy="234.6" rx="4" ry="5" fill="#0e3d20"/><ellipse cx="466" cy="234.6" rx="2.2" ry="2.9" fill="#e8f3ea"/>
<polygon points="454.6,190.1 510.5,221.5 510.5,251.2 454.6,218.9" fill="#17913f"/>
<polygon points="510.5,221.5 531.5,208.4 531.5,232 510.5,251.2" fill="#1c9d46"/>
<polygon points="454.6,190.1 477.3,177.9 531.5,208.4 510.5,221.5" fill="#20a84c"/>
<polyline points="511.5,223 511.5,249" fill="none" stroke="#bfe3c6" stroke-width="1"/>
<polygon points="509.6,212.8 518.3,209.3 520.1,211.9 511.4,215.8" fill="#e0b72c"/>
<polygon points="514.9,236.4 519,229.5 538,222.3 546.5,229.5 549.5,237 560.5,251.5 561.2,259.5 542.8,270.8 528.8,270.5 514.9,257.3" fill="#15803a" stroke="#0c3f1f" stroke-width="1" stroke-linejoin="round"/>
<polygon points="518.5,240 527,244.5 531,254 518.5,248" fill="#0f5c2b"/>
<polygon points="520.1,231.1 537.6,224.1 545.4,230.3 527.1,238.1" fill="#f5e234"/>
<polygon points="527.1,239.9 545.4,231.1 548.1,237.2 530.6,246.9" fill="#fff" stroke="#0c3f1f" stroke-width="0.8" stroke-linejoin="round"/>
<polygon points="530.6,247.7 548.9,238.1 559.4,252.1 541.1,262.6" fill="#f5e234"/>
<polygon points="541.1,262.6 559.4,252.1 560.3,259.1 542.8,269.6" fill="#12331f"/>
<polyline points="545,265 557.5,257.5" fill="none" stroke="#e8d94a" stroke-width="1.2" stroke-dasharray="2 2"/>
<polygon points="519,227 534,220.3 535.5,222.3 520.5,229.2" fill="#dfe9e1" stroke="#0c3f1f" stroke-width="0.5" stroke-linejoin="round"/>
<ellipse cx="528.3" cy="269.5" rx="3.6" ry="4.6" fill="#0e3d20"/><ellipse cx="528.3" cy="269.5" rx="1.9" ry="2.6" fill="#e8f3ea"/>
<polygon points="692.5,261 787.5,317.5 787.5,400 692.5,345" fill="#c2b5b8"/>
<polygon points="699,274.9 719,286.8 719,354.8 699,342.9" fill="#d2641f"/>
<polygon points="729,292.7 749,304.6 749,372.6 729,360.7" fill="#d2641f"/>
<polygon points="759.5,310.8 779.5,322.7 779.5,390.7 759.5,378.8" fill="#d2641f"/>
<polygon points="787.5,317.5 1017.5,190.5 1017.5,272.5 787.5,400" fill="#f28423"/>
<polygon points="787.5,317.5 1025,186.5 1025,192.5 1017.5,199 795.5,326.5 795.5,320.5" fill="#1b1512"/>
<polygon points="780,313.5 787.5,317.5 787.5,400 780,395.5" fill="#c2b5b8"/>
<polygon points="1017.5,196.5 1026.3,191 1026.3,194 1017.5,200" fill="#e97c20"/>
<polygon points="795,327.5 916,258.8 916,279.8 795,348.5" fill="#8a767a" stroke="#2b1c1c" stroke-width="1.3" stroke-linejoin="round"/>
<polyline points="806,321.3 806,342.3" fill="none" stroke="#2b1c1c" stroke-width="1.3"/>
<polyline points="817,315 817,336" fill="none" stroke="#2b1c1c" stroke-width="1.3"/>
<polyline points="828,308.8 828,329.8" fill="none" stroke="#2b1c1c" stroke-width="1.3"/>
<polyline points="839,302.5 839,323.5" fill="none" stroke="#2b1c1c" stroke-width="1.3"/>
<polyline points="850,296.3 850,317.3" fill="none" stroke="#2b1c1c" stroke-width="1.3"/>
<polyline points="861,290 861,311" fill="none" stroke="#2b1c1c" stroke-width="1.3"/>
<polyline points="872,283.8 872,304.8" fill="none" stroke="#2b1c1c" stroke-width="1.3"/>
<polyline points="883,277.5 883,298.5" fill="none" stroke="#2b1c1c" stroke-width="1.3"/>
<polyline points="894,271.3 894,292.3" fill="none" stroke="#2b1c1c" stroke-width="1.3"/>
<polyline points="905,265 905,286" fill="none" stroke="#2b1c1c" stroke-width="1.3"/>
<polyline points="796.6,339.6 804.4,328.5" fill="none" stroke="#b7a7aa" stroke-width="1.1"/>
<polyline points="807.6,333.3 815.4,322.2" fill="none" stroke="#b7a7aa" stroke-width="1.1"/>
<polyline points="818.6,327.1 826.4,316" fill="none" stroke="#b7a7aa" stroke-width="1.1"/>
<polyline points="829.6,320.8 837.4,309.8" fill="none" stroke="#b7a7aa" stroke-width="1.1"/>
<polyline points="840.6,314.6 848.4,303.5" fill="none" stroke="#b7a7aa" stroke-width="1.1"/>
<polyline points="851.6,308.4 859.4,297.3" fill="none" stroke="#b7a7aa" stroke-width="1.1"/>
<polyline points="862.6,302.1 870.4,291" fill="none" stroke="#b7a7aa" stroke-width="1.1"/>
<polyline points="873.6,295.9 881.4,284.8" fill="none" stroke="#b7a7aa" stroke-width="1.1"/>
<polyline points="884.6,289.6 892.4,278.5" fill="none" stroke="#b7a7aa" stroke-width="1.1"/>
<polyline points="895.6,283.4 903.4,272.3" fill="none" stroke="#b7a7aa" stroke-width="1.1"/>
<polyline points="906.6,277.1 914.4,266" fill="none" stroke="#b7a7aa" stroke-width="1.1"/>
<polygon points="795,362.5 916,293.8 916,314.8 795,383.5" fill="#8a767a" stroke="#2b1c1c" stroke-width="1.3" stroke-linejoin="round"/>
<polyline points="806,356.3 806,377.3" fill="none" stroke="#2b1c1c" stroke-width="1.3"/>
<polyline points="817,350 817,371" fill="none" stroke="#2b1c1c" stroke-width="1.3"/>
<polyline points="828,343.8 828,364.8" fill="none" stroke="#2b1c1c" stroke-width="1.3"/>
<polyline points="839,337.5 839,358.5" fill="none" stroke="#2b1c1c" stroke-width="1.3"/>
<polyline points="850,331.3 850,352.3" fill="none" stroke="#2b1c1c" stroke-width="1.3"/>
<polyline points="861,325 861,346" fill="none" stroke="#2b1c1c" stroke-width="1.3"/>
<polyline points="872,318.8 872,339.8" fill="none" stroke="#2b1c1c" stroke-width="1.3"/>
<polyline points="883,312.5 883,333.5" fill="none" stroke="#2b1c1c" stroke-width="1.3"/>
<polyline points="894,306.3 894,327.3" fill="none" stroke="#2b1c1c" stroke-width="1.3"/>
<polyline points="905,300 905,321" fill="none" stroke="#2b1c1c" stroke-width="1.3"/>
<polyline points="796.6,374.6 804.4,363.5" fill="none" stroke="#b7a7aa" stroke-width="1.1"/>
<polyline points="807.6,368.3 815.4,357.2" fill="none" stroke="#b7a7aa" stroke-width="1.1"/>
<polyline points="818.6,362.1 826.4,351" fill="none" stroke="#b7a7aa" stroke-width="1.1"/>
<polyline points="829.6,355.8 837.4,344.8" fill="none" stroke="#b7a7aa" stroke-width="1.1"/>
<polyline points="840.6,349.6 848.4,338.5" fill="none" stroke="#b7a7aa" stroke-width="1.1"/>
<polyline points="851.6,343.4 859.4,332.3" fill="none" stroke="#b7a7aa" stroke-width="1.1"/>
<polyline points="862.6,337.1 870.4,326" fill="none" stroke="#b7a7aa" stroke-width="1.1"/>
<polyline points="873.6,330.9 881.4,319.8" fill="none" stroke="#b7a7aa" stroke-width="1.1"/>
<polyline points="884.6,324.6 892.4,313.5" fill="none" stroke="#b7a7aa" stroke-width="1.1"/>
<polyline points="895.6,318.4 903.4,307.3" fill="none" stroke="#b7a7aa" stroke-width="1.1"/>
<polyline points="906.6,312.1 914.4,301" fill="none" stroke="#b7a7aa" stroke-width="1.1"/>
<polygon points="945,276 1002,245.5 1004.5,247.5 1004.5,253.5 947.5,284 945,282" fill="#5fae3a"/>
<polygon points="945,276 1002,245.5 1004.5,247.5 947.5,278" fill="#8ed04f"/>
<polygon points="692.5,261 924,126 1025,186.5 787.5,317.5" fill="#f6f4f9" stroke="#1b1512" stroke-width="1.6" stroke-linejoin="round"/>
<polygon points="699.7,259.2 924,128.3 1017.9,184.6 1014.2,186.7 924,132.6 703.3,261.3" fill="#b3a6ab"/>
<polyline points="749.5,281 955,160.5" fill="none" stroke="#ee7f22" stroke-width="2.6" stroke-linecap="round"/>
<polygon points="812,410.9 775,432.9 775,436.9 812,415.4" fill="#141210"/>
<polygon points="813.5,386.4 822,386.9 829.5,392.4 829.5,405.4 825,410.9 813.5,414.9" fill="#17913f"/>
<polygon points="813.5,384.2 821,380.9 824,386.4 813.5,391.9" fill="#141210"/>
<polygon points="828.3,394.4 825.5,391.9 825.5,399.9 828.3,401.7" fill="#b8ecdf"/>
<polygon points="824,391.7 817.5,394.4 817.5,403.4 824,400.4" fill="#a6e3d4"/>
<ellipse cx="823.7" cy="409.7" rx="4.1" ry="5" fill="#141210"/><ellipse cx="823.7" cy="409.7" rx="2.3" ry="3" fill="#fff"/>
<ellipse cx="794.6" cy="427.1" rx="4.1" ry="5" fill="#141210"/><ellipse cx="794.6" cy="427.1" rx="2.3" ry="3" fill="#fff"/>
<ellipse cx="785.1" cy="432.2" rx="4.1" ry="5" fill="#141210"/><ellipse cx="785.1" cy="432.2" rx="2.3" ry="3" fill="#fff"/>
<polygon points="774,432.9 753,420.9 753,425.4 774,437.4" fill="#16883f"/>
<rect x="770.5" y="433.7" width="2.6" height="3" fill="#f3ded6" stroke="#c0392b" stroke-width="0.6"/>
<rect x="754.7" y="424.5" width="2.6" height="3" fill="#f3ded6" stroke="#c0392b" stroke-width="0.6"/>
<polygon points="813.5,384.2 775,405.9 775,432.2 813.5,411.8" fill="#16883f"/>
<polygon points="775,405.9 749.5,391.5 749.5,419.1 775,432.2" fill="#141210"/>
<polygon points="773,407.1 751,394.3 751,417.5 773,429.7" fill="#f5e234"/>
<polygon points="813.5,384.2 789.5,368.9 749.5,391.5 775,405.9" fill="#20a84c"/>
<polygon points="800.4,379 788.8,371.7 781.5,375.4 793.1,382.6" fill="#0f5c2b"/>
<polygon points="799,379.3 789.2,373.3 783.6,376.1 793.3,382" fill="#f5e234"/>
<polygon points="831,356 925,411.5 925,492.5 831,439" fill="#c2b5b8"/>
<polygon points="838,370.1 858,381.9 858,448.9 838,437.1" fill="#158c43"/>
<polygon points="868,387.8 888,399.7 888,466.7 868,454.8" fill="#158c43"/>
<polygon points="898,405.6 918,417.4 918,484.4 898,472.6" fill="#158c43"/>
<polygon points="925,411.5 1157.5,283.5 1157.5,356.5 925,492.5" fill="#1fb14f"/>
<polygon points="925,411.5 1165.5,279.5 1165.5,285.5 1157.5,292 933,420.5 933,414.5" fill="#1b1512"/>
<polyline points="933,421.5 1157.5,293" fill="none" stroke="#c9bcc0" stroke-width="2"/>
<polygon points="917.5,407.5 925,411.5 925,492.5 917.5,488.5" fill="#c2b5b8"/>
<polygon points="934,418 1055,351.5 1055,371.5 934,438" fill="#8a767a" stroke="#2b1c1c" stroke-width="1.3" stroke-linejoin="round"/>
<polyline points="945,412 945,432" fill="none" stroke="#2b1c1c" stroke-width="1.3"/>
<polyline points="956,405.9 956,425.9" fill="none" stroke="#2b1c1c" stroke-width="1.3"/>
<polyline points="967,399.9 967,419.9" fill="none" stroke="#2b1c1c" stroke-width="1.3"/>
<polyline points="978,393.8 978,413.8" fill="none" stroke="#2b1c1c" stroke-width="1.3"/>
<polyline points="989,387.8 989,407.8" fill="none" stroke="#2b1c1c" stroke-width="1.3"/>
<polyline points="1000,381.7 1000,401.7" fill="none" stroke="#2b1c1c" stroke-width="1.3"/>
<polyline points="1011,375.7 1011,395.7" fill="none" stroke="#2b1c1c" stroke-width="1.3"/>
<polyline points="1022,369.6 1022,389.6" fill="none" stroke="#2b1c1c" stroke-width="1.3"/>
<polyline points="1033,363.6 1033,383.6" fill="none" stroke="#2b1c1c" stroke-width="1.3"/>
<polyline points="1044,357.5 1044,377.5" fill="none" stroke="#2b1c1c" stroke-width="1.3"/>
<polyline points="935.6,429.5 943.4,418.9" fill="none" stroke="#b7a7aa" stroke-width="1.1"/>
<polyline points="946.6,423.4 954.4,412.8" fill="none" stroke="#b7a7aa" stroke-width="1.1"/>
<polyline points="957.6,417.4 965.4,406.8" fill="none" stroke="#b7a7aa" stroke-width="1.1"/>
<polyline points="968.6,411.4 976.4,400.7" fill="none" stroke="#b7a7aa" stroke-width="1.1"/>
<polyline points="979.6,405.3 987.4,394.7" fill="none" stroke="#b7a7aa" stroke-width="1.1"/>
<polyline points="990.6,399.3 998.4,388.6" fill="none" stroke="#b7a7aa" stroke-width="1.1"/>
<polyline points="1001.6,393.2 1009.4,382.6" fill="none" stroke="#b7a7aa" stroke-width="1.1"/>
<polyline points="1012.6,387.2 1020.4,376.5" fill="none" stroke="#b7a7aa" stroke-width="1.1"/>
<polyline points="1023.6,381.1 1031.3,370.5" fill="none" stroke="#b7a7aa" stroke-width="1.1"/>
<polyline points="1034.7,375.1 1042.3,364.5" fill="none" stroke="#b7a7aa" stroke-width="1.1"/>
<polyline points="1045.7,369 1053.3,358.4" fill="none" stroke="#b7a7aa" stroke-width="1.1"/>
<polygon points="934,454 1055,387.5 1055,407.5 934,474" fill="#8a767a" stroke="#2b1c1c" stroke-width="1.3" stroke-linejoin="round"/>
<polyline points="945,448 945,468" fill="none" stroke="#2b1c1c" stroke-width="1.3"/>
<polyline points="956,441.9 956,461.9" fill="none" stroke="#2b1c1c" stroke-width="1.3"/>
<polyline points="967,435.9 967,455.9" fill="none" stroke="#2b1c1c" stroke-width="1.3"/>
<polyline points="978,429.8 978,449.8" fill="none" stroke="#2b1c1c" stroke-width="1.3"/>
<polyline points="989,423.8 989,443.8" fill="none" stroke="#2b1c1c" stroke-width="1.3"/>
<polyline points="1000,417.7 1000,437.7" fill="none" stroke="#2b1c1c" stroke-width="1.3"/>
<polyline points="1011,411.7 1011,431.7" fill="none" stroke="#2b1c1c" stroke-width="1.3"/>
<polyline points="1022,405.6 1022,425.6" fill="none" stroke="#2b1c1c" stroke-width="1.3"/>
<polyline points="1033,399.6 1033,419.6" fill="none" stroke="#2b1c1c" stroke-width="1.3"/>
<polyline points="1044,393.5 1044,413.5" fill="none" stroke="#2b1c1c" stroke-width="1.3"/>
<polyline points="935.6,465.5 943.4,454.9" fill="none" stroke="#b7a7aa" stroke-width="1.1"/>
<polyline points="946.6,459.4 954.4,448.8" fill="none" stroke="#b7a7aa" stroke-width="1.1"/>
<polyline points="957.6,453.4 965.4,442.8" fill="none" stroke="#b7a7aa" stroke-width="1.1"/>
<polyline points="968.6,447.4 976.4,436.7" fill="none" stroke="#b7a7aa" stroke-width="1.1"/>
<polyline points="979.6,441.3 987.4,430.7" fill="none" stroke="#b7a7aa" stroke-width="1.1"/>
<polyline points="990.6,435.3 998.4,424.6" fill="none" stroke="#b7a7aa" stroke-width="1.1"/>
<polyline points="1001.6,429.2 1009.4,418.6" fill="none" stroke="#b7a7aa" stroke-width="1.1"/>
<polyline points="1012.6,423.2 1020.4,412.5" fill="none" stroke="#b7a7aa" stroke-width="1.1"/>
<polyline points="1023.6,417.1 1031.3,406.5" fill="none" stroke="#b7a7aa" stroke-width="1.1"/>
<polyline points="1034.7,411.1 1042.3,400.5" fill="none" stroke="#b7a7aa" stroke-width="1.1"/>
<polyline points="1045.7,405 1053.3,394.4" fill="none" stroke="#b7a7aa" stroke-width="1.1"/>
<polygon points="1088.5,377.5 1134.8,350.5 1134.8,371 1088.5,396.8" fill="#6e5a5c"/>
<polyline points="1092.5,376.2 1089.5,396.2" fill="none" stroke="#cdbfc2" stroke-width="1.3"/>
<polyline points="1099.1,372.3 1096.1,392.6" fill="none" stroke="#cdbfc2" stroke-width="1.3"/>
<polyline points="1105.7,368.5 1102.7,388.9" fill="none" stroke="#cdbfc2" stroke-width="1.3"/>
<polyline points="1112.3,364.6 1109.3,385.2" fill="none" stroke="#cdbfc2" stroke-width="1.3"/>
<polyline points="1118.9,360.8 1115.9,381.5" fill="none" stroke="#cdbfc2" stroke-width="1.3"/>
<polyline points="1125.5,356.9 1122.6,377.8" fill="none" stroke="#cdbfc2" stroke-width="1.3"/>
<polyline points="1132.2,353 1129.2,374.1" fill="none" stroke="#cdbfc2" stroke-width="1.3"/>
<polygon points="1084.7,368.5 1138.6,337.7 1142.5,340 1142.5,348 1088.5,378.8 1084.7,376.5" fill="#57a835"/>
<polygon points="1084.7,368.5 1138.6,337.7 1142.5,340 1088.5,371" fill="#8ed04f"/>
<polygon points="831,356 1064,218 1165.5,279.5 925,411.5" fill="#f6f4f9" stroke="#1b1512" stroke-width="1.6" stroke-linejoin="round"/>
<polygon points="838.1,354.1 1064,220.4 1158.4,277.6 1154.8,279.7 1064,224.7 841.7,356.3" fill="#b3a6ab"/>
<polyline points="895,378 1106,253.5" fill="none" stroke="#189146" stroke-width="3" stroke-linecap="round"/>
<polygon points="151,380 417.5,544 417.5,641 151,476" fill="#1d6fc0"/>
<polygon points="417.5,538 526,475 527.5,478 527.5,590 417.5,590" fill="#c2b5b8"/>
<polygon points="427,545.5 451,531.5 451,590 427,590" fill="#0f5fa8"/>
<polygon points="462,525.2 486,511.2 486,590 462,590" fill="#0f5fa8"/>
<polygon points="497,504.8 521,490.9 521,590 497,590" fill="#0f5fa8"/>
<polygon points="140,381 152.5,373.8 417.5,538 417.5,549 408,544 140,386.5" fill="#1b1512"/>
<polygon points="140,381 140,386.5 151,393 151,388" fill="#155a9e"/>
<polyline points="151,388.5 408,545.5" fill="none" stroke="#17599c" stroke-width="3"/>
<polygon points="269,469 407.5,547.5 407.5,573.5 269,495" fill="#8a767a" stroke="#2b1c1c" stroke-width="1.3" stroke-linejoin="round"/>
<polyline points="281.6,476.1 281.6,502.1" fill="none" stroke="#2b1c1c" stroke-width="1.3"/>
<polyline points="294.2,483.3 294.2,509.3" fill="none" stroke="#2b1c1c" stroke-width="1.3"/>
<polyline points="306.8,490.4 306.8,516.4" fill="none" stroke="#2b1c1c" stroke-width="1.3"/>
<polyline points="319.4,497.5 319.4,523.5" fill="none" stroke="#2b1c1c" stroke-width="1.3"/>
<polyline points="332,504.7 332,530.7" fill="none" stroke="#2b1c1c" stroke-width="1.3"/>
<polyline points="344.5,511.8 344.5,537.8" fill="none" stroke="#2b1c1c" stroke-width="1.3"/>
<polyline points="357.1,519 357.1,545" fill="none" stroke="#2b1c1c" stroke-width="1.3"/>
<polyline points="369.7,526.1 369.7,552.1" fill="none" stroke="#2b1c1c" stroke-width="1.3"/>
<polyline points="382.3,533.2 382.3,559.2" fill="none" stroke="#2b1c1c" stroke-width="1.3"/>
<polyline points="394.9,540.4 394.9,566.4" fill="none" stroke="#2b1c1c" stroke-width="1.3"/>
<polyline points="270.9,477.9 279.7,491.2" fill="none" stroke="#b7a7aa" stroke-width="1.1"/>
<polyline points="283.5,485 292.3,498.3" fill="none" stroke="#b7a7aa" stroke-width="1.1"/>
<polyline points="296.1,492.1 304.9,505.5" fill="none" stroke="#b7a7aa" stroke-width="1.1"/>
<polyline points="308.7,499.3 317.5,512.6" fill="none" stroke="#b7a7aa" stroke-width="1.1"/>
<polyline points="321.3,506.4 330.1,519.7" fill="none" stroke="#b7a7aa" stroke-width="1.1"/>
<polyline points="333.8,513.6 342.7,526.9" fill="none" stroke="#b7a7aa" stroke-width="1.1"/>
<polyline points="346.4,520.7 355.2,534" fill="none" stroke="#b7a7aa" stroke-width="1.1"/>
<polyline points="359,527.8 367.8,541.1" fill="none" stroke="#b7a7aa" stroke-width="1.1"/>
<polyline points="371.6,535 380.4,548.3" fill="none" stroke="#b7a7aa" stroke-width="1.1"/>
<polyline points="384.2,542.1 393,555.4" fill="none" stroke="#b7a7aa" stroke-width="1.1"/>
<polyline points="396.8,549.2 405.6,562.5" fill="none" stroke="#b7a7aa" stroke-width="1.1"/>
<polygon points="269,511 407.5,589.5 407.5,615.5 269,537" fill="#8a767a" stroke="#2b1c1c" stroke-width="1.3" stroke-linejoin="round"/>
<polyline points="281.6,518.1 281.6,544.1" fill="none" stroke="#2b1c1c" stroke-width="1.3"/>
<polyline points="294.2,525.3 294.2,551.3" fill="none" stroke="#2b1c1c" stroke-width="1.3"/>
<polyline points="306.8,532.4 306.8,558.4" fill="none" stroke="#2b1c1c" stroke-width="1.3"/>
<polyline points="319.4,539.5 319.4,565.5" fill="none" stroke="#2b1c1c" stroke-width="1.3"/>
<polyline points="332,546.7 332,572.7" fill="none" stroke="#2b1c1c" stroke-width="1.3"/>
<polyline points="344.5,553.8 344.5,579.8" fill="none" stroke="#2b1c1c" stroke-width="1.3"/>
<polyline points="357.1,561 357.1,587" fill="none" stroke="#2b1c1c" stroke-width="1.3"/>
<polyline points="369.7,568.1 369.7,594.1" fill="none" stroke="#2b1c1c" stroke-width="1.3"/>
<polyline points="382.3,575.2 382.3,601.2" fill="none" stroke="#2b1c1c" stroke-width="1.3"/>
<polyline points="394.9,582.4 394.9,608.4" fill="none" stroke="#2b1c1c" stroke-width="1.3"/>
<polyline points="270.9,519.9 279.7,533.2" fill="none" stroke="#b7a7aa" stroke-width="1.1"/>
<polyline points="283.5,527 292.3,540.3" fill="none" stroke="#b7a7aa" stroke-width="1.1"/>
<polyline points="296.1,534.1 304.9,547.5" fill="none" stroke="#b7a7aa" stroke-width="1.1"/>
<polyline points="308.7,541.3 317.5,554.6" fill="none" stroke="#b7a7aa" stroke-width="1.1"/>
<polyline points="321.3,548.4 330.1,561.7" fill="none" stroke="#b7a7aa" stroke-width="1.1"/>
<polyline points="333.8,555.6 342.7,568.9" fill="none" stroke="#b7a7aa" stroke-width="1.1"/>
<polyline points="346.4,562.7 355.2,576" fill="none" stroke="#b7a7aa" stroke-width="1.1"/>
<polyline points="359,569.8 367.8,583.1" fill="none" stroke="#b7a7aa" stroke-width="1.1"/>
<polyline points="371.6,577 380.4,590.3" fill="none" stroke="#b7a7aa" stroke-width="1.1"/>
<polyline points="384.2,584.1 393,597.4" fill="none" stroke="#b7a7aa" stroke-width="1.1"/>
<polyline points="396.8,591.2 405.6,604.5" fill="none" stroke="#b7a7aa" stroke-width="1.1"/>
<polygon points="175,470 231,500.5 231,526 175,493" fill="#6e5a5c"/>
<polyline points="175.8,470.4 179.4,495.6" fill="none" stroke="#cdbfc2" stroke-width="1.3"/>
<polyline points="183.8,474.8 187.4,500.3" fill="none" stroke="#cdbfc2" stroke-width="1.3"/>
<polyline points="191.8,479.1 195.4,505" fill="none" stroke="#cdbfc2" stroke-width="1.3"/>
<polyline points="199.8,483.5 203.4,509.7" fill="none" stroke="#cdbfc2" stroke-width="1.3"/>
<polyline points="207.8,487.9 211.4,514.5" fill="none" stroke="#cdbfc2" stroke-width="1.3"/>
<polyline points="215.8,492.2 219.4,519.2" fill="none" stroke="#cdbfc2" stroke-width="1.3"/>
<polyline points="223.8,496.6 227.4,523.9" fill="none" stroke="#cdbfc2" stroke-width="1.3"/>
<polygon points="167.5,454 170.5,452 236.5,487 236.5,497.5 234,499.5 167.5,465" fill="#1a5ea6"/>
<polygon points="167.5,457 234,492 234,502.5 167.5,467" fill="#3d9fe2"/>
<polygon points="234,492 236.5,490 236.5,500 234,502.5" fill="#1a6b3a"/>
<polygon points="152.5,373.8 259.5,308.8 526,475 417.5,538" fill="#f6f4f9" stroke="#1b1512" stroke-width="1.6" stroke-linejoin="round"/>
<polygon points="159.6,371.9 259.5,311.2 518.9,473 515.4,475.2 259.5,315.6 163.1,374.1" fill="#b3a6ab"/>
<polyline points="205,346 462,504" fill="none" stroke="#1c6ab8" stroke-width="3.6" stroke-linecap="round"/>
<polygon points="442,385 479,407 479,411 442,389.5" fill="#141210"/>
<polygon points="440.5,360.5 432,361 424.5,366.5 424.5,379.5 429,385 440.5,389" fill="#17913f"/>
<polygon points="440.5,358.3 433,355 430,360.5 440.5,366" fill="#141210"/>
<polygon points="425.7,368.5 428.5,366 428.5,374 425.7,375.8" fill="#b8ecdf"/>
<polygon points="430,365.8 436.5,368.5 436.5,377.5 430,374.5" fill="#a6e3d4"/>
<ellipse cx="430.3" cy="383.8" rx="4.1" ry="5" fill="#141210"/><ellipse cx="430.3" cy="383.8" rx="2.3" ry="3" fill="#fff"/>
<ellipse cx="459.4" cy="401.2" rx="4.1" ry="5" fill="#141210"/><ellipse cx="459.4" cy="401.2" rx="2.3" ry="3" fill="#fff"/>
<ellipse cx="468.9" cy="406.3" rx="4.1" ry="5" fill="#141210"/><ellipse cx="468.9" cy="406.3" rx="2.3" ry="3" fill="#fff"/>
<polygon points="480,407 501,395 501,399.5 480,411.5" fill="#16883f"/>
<rect x="480.9" y="407.8" width="2.6" height="3" fill="#f3ded6" stroke="#c0392b" stroke-width="0.6"/>
<rect x="496.7" y="398.6" width="2.6" height="3" fill="#f3ded6" stroke="#c0392b" stroke-width="0.6"/>
<polygon points="440.5,358.3 479,380 479,406.3 440.5,385.9" fill="#16883f"/>
<polygon points="479,380 504.5,365.6 504.5,393.2 479,406.3" fill="#141210"/>
<polygon points="481,381.2 503,368.4 503,391.6 481,403.8" fill="#f5e234"/>
<polygon points="440.5,358.3 464.5,343 504.5,365.6 479,380" fill="#20a84c"/>
<polygon points="453.6,353.1 465.2,345.8 472.5,349.5 460.9,356.7" fill="#0f5c2b"/>
<polygon points="455,353.4 464.8,347.4 470.4,350.2 460.7,356.1" fill="#f5e234"/>
<polygon points="559,451 596,473 596,477 559,455.5" fill="#141210"/>
<polygon points="557.5,426.5 549,427 541.5,432.5 541.5,445.5 546,451 557.5,455" fill="#17913f"/>
<polygon points="557.5,424.3 550,421 547,426.5 557.5,432" fill="#141210"/>
<polygon points="542.7,434.5 545.5,432 545.5,440 542.7,441.8" fill="#b8ecdf"/>
<polygon points="547,431.8 553.5,434.5 553.5,443.5 547,440.5" fill="#a6e3d4"/>
<ellipse cx="547.3" cy="449.8" rx="4.1" ry="5" fill="#141210"/><ellipse cx="547.3" cy="449.8" rx="2.3" ry="3" fill="#fff"/>
<ellipse cx="576.4" cy="467.2" rx="4.1" ry="5" fill="#141210"/><ellipse cx="576.4" cy="467.2" rx="2.3" ry="3" fill="#fff"/>
<ellipse cx="585.9" cy="472.3" rx="4.1" ry="5" fill="#141210"/><ellipse cx="585.9" cy="472.3" rx="2.3" ry="3" fill="#fff"/>
<polygon points="597,473 618,461 618,465.5 597,477.5" fill="#16883f"/>
<rect x="597.9" y="473.8" width="2.6" height="3" fill="#f3ded6" stroke="#c0392b" stroke-width="0.6"/>
<rect x="613.7" y="464.6" width="2.6" height="3" fill="#f3ded6" stroke="#c0392b" stroke-width="0.6"/>
<polygon points="557.5,424.3 596,446 596,472.3 557.5,451.9" fill="#16883f"/>
<polygon points="596,446 621.5,431.6 621.5,459.2 596,472.3" fill="#141210"/>
<polygon points="598,447.2 620,434.4 620,457.6 598,469.8" fill="#f5e234"/>
<polygon points="557.5,424.3 581.5,409 621.5,431.6 596,446" fill="#20a84c"/>
<polygon points="570.6,419.1 582.2,411.8 589.5,415.5 577.9,422.7" fill="#0f5c2b"/>
<polygon points="572,419.4 581.8,413.4 587.4,416.2 577.7,422.1" fill="#f5e234"/>
<polygon points="1087,492.5 1050,514.5 1050,518.5 1087,497" fill="#141210"/>
<polygon points="1088.5,468 1097,468.5 1104.5,474 1104.5,487 1100,492.5 1088.5,496.5" fill="#17913f"/>
<polygon points="1088.5,465.8 1096,462.5 1099,468 1088.5,473.5" fill="#141210"/>
<polygon points="1103.3,476 1100.5,473.5 1100.5,481.5 1103.3,483.3" fill="#b8ecdf"/>
<polygon points="1099,473.3 1092.5,476 1092.5,485 1099,482" fill="#a6e3d4"/>
<ellipse cx="1098.7" cy="491.3" rx="4.1" ry="5" fill="#141210"/><ellipse cx="1098.7" cy="491.3" rx="2.3" ry="3" fill="#fff"/>
<ellipse cx="1069.6" cy="508.7" rx="4.1" ry="5" fill="#141210"/><ellipse cx="1069.6" cy="508.7" rx="2.3" ry="3" fill="#fff"/>
<ellipse cx="1060.1" cy="513.8" rx="4.1" ry="5" fill="#141210"/><ellipse cx="1060.1" cy="513.8" rx="2.3" ry="3" fill="#fff"/>
<polygon points="1049,514.5 1028,502.5 1028,507 1049,519" fill="#16883f"/>
<rect x="1045.5" y="515.3" width="2.6" height="3" fill="#f3ded6" stroke="#c0392b" stroke-width="0.6"/>
<rect x="1029.7" y="506.1" width="2.6" height="3" fill="#f3ded6" stroke="#c0392b" stroke-width="0.6"/>
<polygon points="1088.5,465.8 1050,487.5 1050,513.8 1088.5,493.4" fill="#16883f"/>
<polygon points="1050,487.5 1024.5,473.1 1024.5,500.7 1050,513.8" fill="#141210"/>
<polygon points="1048,488.7 1026,475.9 1026,499.1 1048,511.3" fill="#f5e234"/>
<polygon points="1088.5,465.8 1064.5,450.5 1024.5,473.1 1050,487.5" fill="#20a84c"/>
<polygon points="1075.4,460.6 1063.8,453.3 1056.5,457 1068.1,464.2" fill="#0f5c2b"/>
<polygon points="1074,460.9 1064.2,454.9 1058.6,457.7 1068.3,463.6" fill="#f5e234"/>
<polygon points="602.5,558 680,603 680,640 602.5,600" fill="#4aa4e8"/>
<polygon points="602.5,556.5 613,553.5 690,598 680,603" fill="#fff"/>
<polygon points="608,572 640,590.5 640,604.5 608,586" fill="#8a767a" stroke="#2b1c1c" stroke-width="1" stroke-linejoin="round"/>
<polyline points="618.7,578.2 618.7,592.2" fill="none" stroke="#2b1c1c" stroke-width="1"/>
<polyline points="629.3,584.3 629.3,598.3" fill="none" stroke="#2b1c1c" stroke-width="1"/>
<polyline points="609.6,577.1 617.1,585.9" fill="none" stroke="#b7a7aa" stroke-width="1.1"/>
<polyline points="620.3,583.3 627.7,592.1" fill="none" stroke="#b7a7aa" stroke-width="1.1"/>
<polyline points="630.9,589.5 638.4,598.3" fill="none" stroke="#b7a7aa" stroke-width="1.1"/>
<polygon points="690,598 842.5,503 842.5,600 690,640" fill="#1d6fc0"/>
<polygon points="675,591.5 833.8,499.5 842.5,503 690,598" fill="#fff"/>
<polygon points="700,605 820,533 820,552 700,624" fill="#8a767a" stroke="#2b1c1c" stroke-width="1" stroke-linejoin="round"/>
<polyline points="713.3,597 713.3,616" fill="none" stroke="#2b1c1c" stroke-width="1"/>
<polyline points="726.7,589 726.7,608" fill="none" stroke="#2b1c1c" stroke-width="1"/>
<polyline points="740,581 740,600" fill="none" stroke="#2b1c1c" stroke-width="1"/>
<polyline points="753.3,573 753.3,592" fill="none" stroke="#2b1c1c" stroke-width="1"/>
<polyline points="766.7,565 766.7,584" fill="none" stroke="#2b1c1c" stroke-width="1"/>
<polyline points="780,557 780,576" fill="none" stroke="#2b1c1c" stroke-width="1"/>
<polyline points="793.3,549 793.3,568" fill="none" stroke="#2b1c1c" stroke-width="1"/>
<polyline points="806.7,541 806.7,560" fill="none" stroke="#2b1c1c" stroke-width="1"/>
<polyline points="702,615.6 711.3,603.9" fill="none" stroke="#b7a7aa" stroke-width="1.1"/>
<polyline points="715.3,607.6 724.7,595.9" fill="none" stroke="#b7a7aa" stroke-width="1.1"/>
<polyline points="728.7,599.6 738,587.9" fill="none" stroke="#b7a7aa" stroke-width="1.1"/>
<polyline points="742,591.6 751.3,579.9" fill="none" stroke="#b7a7aa" stroke-width="1.1"/>
<polyline points="755.3,583.6 764.7,571.9" fill="none" stroke="#b7a7aa" stroke-width="1.1"/>
<polyline points="768.7,575.6 778,563.9" fill="none" stroke="#b7a7aa" stroke-width="1.1"/>
<polyline points="782,567.6 791.3,555.9" fill="none" stroke="#b7a7aa" stroke-width="1.1"/>
<polyline points="795.3,559.6 804.7,547.9" fill="none" stroke="#b7a7aa" stroke-width="1.1"/>
<polyline points="808.7,551.6 818,539.9" fill="none" stroke="#b7a7aa" stroke-width="1.1"/>
<defs><linearGradient id="bg2" gradientUnits="userSpaceOnUse" x1="613" y1="542.2" x2="762.3" y2="547.4"><stop offset="0" stop-color="#ece7e5"/><stop offset="0.5" stop-color="#e0d9d6"/><stop offset="1" stop-color="#c9bcb9"/></linearGradient></defs>
<polygon points="613,555.4 613.1,553.7 613.4,552.2 613.9,550.8 614.5,549.5 615.4,548.4 616.4,547.4 617.6,546.6 776.3,455.7 777.7,455 779.2,454.5 780.8,454.2 782.6,454.1 784.5,454.1 786.5,454.3 788.7,454.7 790.9,455.3 793.2,456 795.5,456.9 797.9,458 800.3,459.2 802.8,460.5 805.2,462 807.6,463.6 810,465.3 812.3,467.1 814.6,469.1 816.8,471.1 819,473.1 821,475.3 822.9,477.5 824.7,479.7 826.3,481.9 827.8,484.1 829.2,486.4 830.4,488.6 831.4,490.7 832.2,492.8 832.9,494.9 833.4,496.8 833.6,498.7 833.8,500.5 675,591.4" fill="url(#bg2)"/>
<polyline points="706.1,572.7 705.9,570.7 705.5,568.6 704.8,566.4 704,564.1 702.9,561.8 701.6,559.4 700.2,557 698.5,554.6 696.7,552.2 694.7,549.8 692.6,547.4 690.4,545.1 688,542.9 685.6,540.8 683.1,538.7 680.5,536.8 677.8,535 675.2,533.4 672.6,532 669.9,530.7 667.3,529.6 664.8,528.6 662.4,527.9 660,527.4 657.7,527.1 655.6,526.9" fill="none" stroke="#ece6e4" stroke-width="1.2" stroke-linecap="round" opacity="0.55"/>
<polyline points="707.4,572.2 707.2,570.2 706.8,568.1 706.1,565.9 705.3,563.6 704.2,561.3 702.9,558.9 701.5,556.5 699.8,554.1 698,551.7 696,549.3 693.9,546.9 691.7,544.6 689.3,542.4 686.9,540.3 684.4,538.2 681.8,536.3 679.1,534.5 676.5,532.9 673.9,531.5 671.2,530.2 668.6,529.1 666.1,528.1 663.7,527.4 661.3,526.9 659,526.6 656.9,526.4" fill="none" stroke="#ad9e9c" stroke-width="1.9" stroke-linecap="round"/>
<polyline points="737.3,554.8 737.2,552.8 736.7,550.7 736.1,548.5 735.2,546.2 734.2,543.9 732.9,541.5 731.4,539.1 729.8,536.7 728,534.3 726,531.9 723.9,529.5 721.7,527.2 719.3,525 716.9,522.8 714.3,520.8 711.7,518.9 709.1,517.1 706.5,515.5 703.8,514.1 701.2,512.8 698.6,511.7 696.1,510.7 693.6,510 691.3,509.5 689,509.1 686.9,509" fill="none" stroke="#ece6e4" stroke-width="1.2" stroke-linecap="round" opacity="0.55"/>
<polyline points="738.6,554.3 738.5,552.3 738,550.2 737.4,548 736.5,545.7 735.5,543.4 734.2,541 732.7,538.6 731.1,536.2 729.3,533.8 727.3,531.4 725.2,529 723,526.7 720.6,524.5 718.2,522.3 715.6,520.3 713,518.4 710.4,516.6 707.8,515 705.1,513.6 702.5,512.3 699.9,511.2 697.4,510.2 694.9,509.5 692.6,509 690.3,508.6 688.2,508.5" fill="none" stroke="#ad9e9c" stroke-width="1.9" stroke-linecap="round"/>
<polyline points="768.6,536.9 768.4,534.9 768,532.8 767.4,530.6 766.5,528.3 765.5,526 764.2,523.6 762.7,521.2 761.1,518.8 759.3,516.3 757.3,513.9 755.2,511.6 752.9,509.3 750.6,507.1 748.1,504.9 745.6,502.9 743,501 740.4,499.2 737.8,497.6 735.1,496.1 732.5,494.9 729.9,493.7 727.4,492.8 724.9,492.1 722.5,491.6 720.3,491.2 718.2,491.1" fill="none" stroke="#ece6e4" stroke-width="1.2" stroke-linecap="round" opacity="0.55"/>
<polyline points="769.9,536.4 769.7,534.4 769.3,532.3 768.7,530.1 767.8,527.8 766.8,525.5 765.5,523.1 764,520.7 762.4,518.3 760.6,515.8 758.6,513.4 756.5,511.1 754.2,508.8 751.9,506.6 749.4,504.4 746.9,502.4 744.3,500.5 741.7,498.7 739.1,497.1 736.4,495.6 733.8,494.4 731.2,493.2 728.7,492.3 726.2,491.6 723.8,491.1 721.6,490.7 719.5,490.6" fill="none" stroke="#ad9e9c" stroke-width="1.9" stroke-linecap="round"/>
<polyline points="799.9,519 799.7,517 799.3,514.9 798.6,512.7 797.8,510.4 796.7,508.1 795.5,505.7 794,503.3 792.4,500.9 790.5,498.4 788.6,496 786.5,493.7 784.2,491.4 781.9,489.2 779.4,487 776.9,485 774.3,483.1 771.7,481.3 769,479.7 766.4,478.2 763.8,476.9 761.2,475.8 758.6,474.9 756.2,474.2 753.8,473.7 751.6,473.3 749.4,473.2" fill="none" stroke="#ece6e4" stroke-width="1.2" stroke-linecap="round" opacity="0.55"/>
<polyline points="801.2,518.5 801,516.5 800.6,514.4 799.9,512.2 799.1,509.9 798,507.6 796.8,505.2 795.3,502.8 793.7,500.4 791.8,497.9 789.9,495.5 787.8,493.2 785.5,490.9 783.2,488.7 780.7,486.5 778.2,484.5 775.6,482.6 773,480.8 770.3,479.2 767.7,477.7 765.1,476.4 762.5,475.3 759.9,474.4 757.5,473.7 755.1,473.2 752.9,472.8 750.7,472.7" fill="none" stroke="#ad9e9c" stroke-width="1.9" stroke-linecap="round"/>
<polyline points="831.2,501.1 831,499.1 830.6,497 829.9,494.8 829.1,492.5 828,490.2 826.7,487.8 825.3,485.4 823.6,482.9 821.8,480.5 819.8,478.1 817.7,475.8 815.5,473.5 813.1,471.3 810.7,469.1 808.2,467.1 805.6,465.2 802.9,463.4 800.3,461.8 797.7,460.3 795,459 792.4,457.9 789.9,457 787.5,456.3 785.1,455.7 782.8,455.4 780.7,455.3" fill="none" stroke="#ece6e4" stroke-width="1.2" stroke-linecap="round" opacity="0.55"/>
<polyline points="832.5,500.6 832.3,498.6 831.9,496.5 831.2,494.3 830.4,492 829.3,489.7 828,487.3 826.6,484.9 824.9,482.4 823.1,480 821.1,477.6 819,475.3 816.8,473 814.4,470.8 812,468.6 809.5,466.6 806.9,464.7 804.2,462.9 801.6,461.3 799,459.8 796.3,458.5 793.7,457.4 791.2,456.5 788.8,455.8 786.4,455.2 784.1,454.9 782,454.8" fill="none" stroke="#ad9e9c" stroke-width="1.9" stroke-linecap="round"/>
<polygon points="675,591.4 674.9,589.6 674.6,587.7 674.1,585.8 673.5,583.7 672.6,581.6 671.6,579.5 670.4,577.3 669.1,575 667.6,572.8 665.9,570.6 664.1,568.4 662.2,566.2 660.2,564 658.1,562 655.9,560 653.6,558 651.2,556.2 648.8,554.5 646.4,552.9 644,551.4 641.6,550.1 639.2,548.9 636.8,547.8 634.4,546.9 632.1,546.2 629.9,545.6 627.8,545.2 625.8,545 623.9,545 622.1,545.1 620.4,545.4 618.9,545.9 617.6,546.6 616.4,547.4 615.4,548.4 614.5,549.5 613.9,550.8 613.4,552.2 613.1,553.7 613,555.4" fill="#1664ad"/>
<polygon points="878,563 915,585 915,589 878,567.5" fill="#141210"/>
<polygon points="876.5,538.5 868,539 860.5,544.5 860.5,557.5 865,563 876.5,567" fill="#17913f"/>
<polygon points="876.5,536.3 869,533 866,538.5 876.5,544" fill="#141210"/>
<polygon points="861.7,546.5 864.5,544 864.5,552 861.7,553.8" fill="#b8ecdf"/>
<polygon points="866,543.8 872.5,546.5 872.5,555.5 866,552.5" fill="#a6e3d4"/>
<ellipse cx="866.3" cy="561.8" rx="4.1" ry="5" fill="#141210"/><ellipse cx="866.3" cy="561.8" rx="2.3" ry="3" fill="#fff"/>
<ellipse cx="895.4" cy="579.2" rx="4.1" ry="5" fill="#141210"/><ellipse cx="895.4" cy="579.2" rx="2.3" ry="3" fill="#fff"/>
<ellipse cx="904.9" cy="584.3" rx="4.1" ry="5" fill="#141210"/><ellipse cx="904.9" cy="584.3" rx="2.3" ry="3" fill="#fff"/>
<polygon points="916,585 937,573 937,577.5 916,589.5" fill="#16883f"/>
<rect x="916.9" y="585.8" width="2.6" height="3" fill="#f3ded6" stroke="#c0392b" stroke-width="0.6"/>
<rect x="932.7" y="576.6" width="2.6" height="3" fill="#f3ded6" stroke="#c0392b" stroke-width="0.6"/>
<polygon points="876.5,536.3 915,558 915,584.3 876.5,563.9" fill="#16883f"/>
<polygon points="915,558 940.5,543.6 940.5,571.2 915,584.3" fill="#141210"/>
<polygon points="917,559.2 939,546.4 939,569.6 917,581.8" fill="#f5e234"/>
<polygon points="876.5,536.3 900.5,521 940.5,543.6 915,558" fill="#20a84c"/>
<polygon points="889.6,531.1 901.2,523.8 908.5,527.5 896.9,534.7" fill="#0f5c2b"/>
<polygon points="891,531.4 900.8,525.4 906.4,528.2 896.7,534.1" fill="#f5e234"/>
<polygon points="489,571 497,575 497,590 489,590" fill="#e9e4cf"/>
<polygon points="478.8,565.5 520,590 520,594 478.8,569.5" fill="#d8c45a"/>
<polygon points="478.8,565.5 497.5,555.5 560,592 520,590" fill="#f0ebc2"/>
<polygon points="930,499 940,493.5 950,499 940,504.5" fill="#e8efe6" stroke="#14532d" stroke-width="1" stroke-linejoin="round"/>
<polygon points="930,499 940,504.5 950,499 950,501.5 940,507 930,501.5" fill="#14703a" stroke="#0d3f20" stroke-width="0.8" stroke-linejoin="round"/>
<ellipse cx="941.5" cy="490" rx="10" ry="9" fill="#0f3d22"/>
<ellipse cx="939" cy="489" rx="8.5" ry="8.5" fill="#178a42"/>
<ellipse cx="941" cy="479" rx="7.5" ry="7" fill="#0f3d22"/>
<ellipse cx="939.2" cy="478" rx="6.3" ry="6.3" fill="#1a9a4a"/>
<polygon points="54,570 86.6,551.7 105,560.3 97,566 72,581" fill="#f6cf3a"/>
<polygon points="63.8,571 81.2,561.4 94.2,569 76.8,579.8" fill="#3a3f4a"/>
<polygon points="54,570 72,581 93,590 54,590" fill="#efb92e"/>
<polygon points="72,581 97,566 101,575 101,590 72,590" fill="#d9a326"/>
<polygon points="100.7,560 108,558 112.6,565 112.6,577 104,582 100.7,576" fill="#8090b4"/>
<ellipse cx="106" cy="583" rx="4" ry="5" fill="#4b5263"/>
<polygon points="120,580 126,577 131,580 131,590 120,590" fill="#f0a630"/>
<polygon points="136,579 143,573.5 152,575 156,580 156,590 136,590" fill="#9db1d2"/>
<polyline points="167,565.9 167,590" fill="none" stroke="#2a6cb0" stroke-width="1.2"/>
<polyline points="173,564.4 173,590" fill="none" stroke="#2a6cb0" stroke-width="1.2"/>
<polyline points="179.5,563.2 179.5,590" fill="none" stroke="#2a6cb0" stroke-width="1.2"/>
<polyline points="185.5,564.8 185.5,590" fill="none" stroke="#2a6cb0" stroke-width="1.2"/>
<polyline points="190.5,566 190.5,590" fill="none" stroke="#2a6cb0" stroke-width="1.2"/>
<polyline points="167,566 178.5,571 190.5,566" fill="none" stroke="#2a6cb0" stroke-width="1"/>
<polyline points="167,571 178.5,576 190.5,571" fill="none" stroke="#2a6cb0" stroke-width="1"/>
<polyline points="167,576 178.5,581 190.5,576" fill="none" stroke="#2a6cb0" stroke-width="1"/>
<polyline points="167,581 178.5,586 190.5,581" fill="none" stroke="#2a6cb0" stroke-width="1"/>
<polyline points="167,586 178.5,591 190.5,586" fill="none" stroke="#2a6cb0" stroke-width="1"/>
<polyline points="167,591 178.5,596 190.5,591" fill="none" stroke="#2a6cb0" stroke-width="1"/>
<polygon points="167,565.5 179,560 190.5,565.5 178.5,571" fill="none" stroke="#2a6cb0" stroke-width="1.1" stroke-linejoin="round"/>
<polygon points="196,582 265,556.5 270,561 215,590 196,590" fill="#1d6fc0"/>
<polygon points="250,566 267,557.5 282,574 262,584" fill="#e9edf2" stroke="#1d6fc0" stroke-width="1" stroke-linejoin="round"/>
<polyline points="253.6,571.4 271.5,562.5" fill="none" stroke="#9aa3ad" stroke-width="1"/>
<polyline points="257.2,576.8 276,567.4" fill="none" stroke="#9aa3ad" stroke-width="1"/>
<polygon points="222,590 262,566 268,584 262,590" fill="#e9edf2"/>
<polyline points="228,590 262,568" fill="none" stroke="#1d6fc0" stroke-width="2"/>
<polyline points="266,556 272,566" fill="none" stroke="#1d6fc0" stroke-width="2"/>
<g font-family="'Liberation Sans', sans-serif" fill="#1a1a1a" stroke="#1a1a1a" stroke-width="0.3">
<text x="847.5" y="29.3" font-size="31.5" textLength="197" lengthAdjust="spacingAndGlyphs">INTEGRATED</text>
<text x="847.5" y="69.4" font-size="31.5" textLength="323" lengthAdjust="spacingAndGlyphs">RECYCLING FACILITY</text>
<text x="271" y="1.5" font-size="14.5" textLength="77" lengthAdjust="spacingAndGlyphs">RECYCLING</text>
<text x="271" y="19.3" font-size="14.5" textLength="53" lengthAdjust="spacingAndGlyphs">CENTER</text>
<text x="640" y="46" font-size="14.5" textLength="76" lengthAdjust="spacingAndGlyphs">RECYCLING</text>
<text x="694" y="27.3" font-size="14.5" textLength="22" lengthAdjust="spacingAndGlyphs">OIL</text>
<text x="751" y="111.2" font-size="14.5" textLength="62" lengthAdjust="spacingAndGlyphs">SOLVENT</text>
<text x="751" y="129.5" font-size="14.5" textLength="120" lengthAdjust="spacingAndGlyphs">RECOVERY PLANT</text>
<text x="940.5" y="127" font-size="14.5" textLength="127" lengthAdjust="spacingAndGlyphs">PAPER RECYCLING</text>
<text x="1008" y="161.5" font-size="14.5" textLength="147" lengthAdjust="spacingAndGlyphs">PLASTICS RECYCLING</text>
<text x="1099.5" y="207.2" font-size="14.5" textLength="41" lengthAdjust="spacingAndGlyphs">WEEE</text>
<text x="1099.5" y="226" font-size="14.5" textLength="82" lengthAdjust="spacingAndGlyphs">RECYCLING</text>
<text x="22" y="239" font-size="14.5" textLength="98" lengthAdjust="spacingAndGlyphs">SEGREGATION</text>
<text x="22" y="257.3" font-size="14.5" textLength="79" lengthAdjust="spacingAndGlyphs">&amp; LOADING</text>
<text x="63.5" y="391.2" font-size="14.5" textLength="34.5" lengthAdjust="spacingAndGlyphs">LEAD</text>
<text x="63.5" y="409.2" font-size="14.5" textLength="77" lengthAdjust="spacingAndGlyphs">RECYCLING</text>
<text x="16" y="502.5" font-size="14.5" textLength="110" lengthAdjust="spacingAndGlyphs">CONSTRUCTION</text>
<text x="16" y="520.5" font-size="14.5" textLength="104" lengthAdjust="spacingAndGlyphs">&amp; DEMOLITION</text>
<text x="16" y="538.3" font-size="14.5" textLength="48" lengthAdjust="spacingAndGlyphs">WASTE</text>
</g>
</svg>
</body></html>
